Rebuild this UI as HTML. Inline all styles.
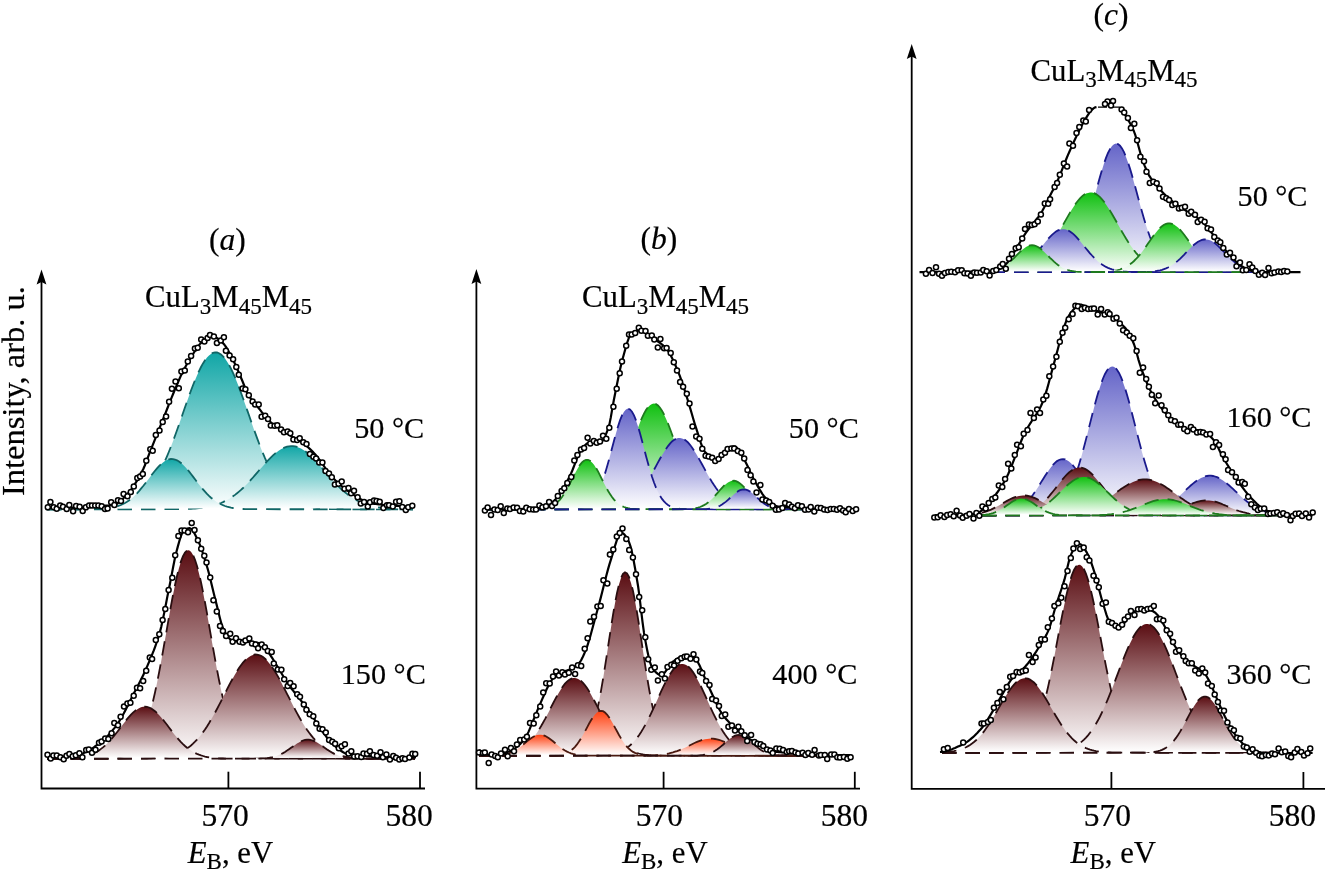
<!DOCTYPE html>
<html><head><meta charset="utf-8"><style>html,body{margin:0;padding:0;background:#fff;width:1328px;height:872px;overflow:hidden}svg{display:block;will-change:transform}</style></head><body><svg width="1328" height="872" viewBox="0 0 1328 872"><defs><linearGradient id="a1_g0" x1="0" y1="0" x2="0" y2="1"><stop offset="0" stop-color="#10a6a6"/><stop offset="1" stop-color="#fff"/></linearGradient><linearGradient id="a1_g1" x1="0" y1="0" x2="0" y2="1"><stop offset="0" stop-color="#10a6a6"/><stop offset="1" stop-color="#fff"/></linearGradient><linearGradient id="a1_g2" x1="0" y1="0" x2="0" y2="1"><stop offset="0" stop-color="#10a6a6"/><stop offset="1" stop-color="#fff"/></linearGradient><linearGradient id="a2_g0" x1="0" y1="0" x2="0" y2="1"><stop offset="0" stop-color="#5a0d12"/><stop offset="1" stop-color="#fff"/></linearGradient><linearGradient id="a2_g1" x1="0" y1="0" x2="0" y2="1"><stop offset="0" stop-color="#5a0d12"/><stop offset="1" stop-color="#fff"/></linearGradient><linearGradient id="a2_g2" x1="0" y1="0" x2="0" y2="1"><stop offset="0" stop-color="#5a0d12"/><stop offset="1" stop-color="#fff"/></linearGradient><linearGradient id="a2_g3" x1="0" y1="0" x2="0" y2="1"><stop offset="0" stop-color="#5a0d12"/><stop offset="1" stop-color="#fff"/></linearGradient><linearGradient id="b1_g0" x1="0" y1="0" x2="0" y2="1"><stop offset="0" stop-color="#10c010"/><stop offset="1" stop-color="#fff"/></linearGradient><linearGradient id="b1_g1" x1="0" y1="0" x2="0" y2="1"><stop offset="0" stop-color="#6464c8"/><stop offset="1" stop-color="#fff"/></linearGradient><linearGradient id="b1_g2" x1="0" y1="0" x2="0" y2="1"><stop offset="0" stop-color="#6464c8"/><stop offset="1" stop-color="#fff"/></linearGradient><linearGradient id="b1_g3" x1="0" y1="0" x2="0" y2="1"><stop offset="0" stop-color="#10c010"/><stop offset="1" stop-color="#fff"/></linearGradient><linearGradient id="b1_g4" x1="0" y1="0" x2="0" y2="1"><stop offset="0" stop-color="#10c010"/><stop offset="1" stop-color="#fff"/></linearGradient><linearGradient id="b1_g5" x1="0" y1="0" x2="0" y2="1"><stop offset="0" stop-color="#6464c8"/><stop offset="1" stop-color="#fff"/></linearGradient><linearGradient id="b2_g0" x1="0" y1="0" x2="0" y2="1"><stop offset="0" stop-color="#5a0d12"/><stop offset="1" stop-color="#fff"/></linearGradient><linearGradient id="b2_g1" x1="0" y1="0" x2="0" y2="1"><stop offset="0" stop-color="#5a0d12"/><stop offset="1" stop-color="#fff"/></linearGradient><linearGradient id="b2_g2" x1="0" y1="0" x2="0" y2="1"><stop offset="0" stop-color="#5a0d12"/><stop offset="1" stop-color="#fff"/></linearGradient><linearGradient id="b2_g3" x1="0" y1="0" x2="0" y2="1"><stop offset="0" stop-color="#ff4010"/><stop offset="1" stop-color="#fff"/></linearGradient><linearGradient id="b2_g4" x1="0" y1="0" x2="0" y2="1"><stop offset="0" stop-color="#ff4010"/><stop offset="1" stop-color="#fff"/></linearGradient><linearGradient id="b2_g5" x1="0" y1="0" x2="0" y2="1"><stop offset="0" stop-color="#ff4010"/><stop offset="1" stop-color="#fff"/></linearGradient><linearGradient id="b2_g6" x1="0" y1="0" x2="0" y2="1"><stop offset="0" stop-color="#5a0d12"/><stop offset="1" stop-color="#fff"/></linearGradient><linearGradient id="c1_g0" x1="0" y1="0" x2="0" y2="1"><stop offset="0" stop-color="#6464c8"/><stop offset="1" stop-color="#fff"/></linearGradient><linearGradient id="c1_g1" x1="0" y1="0" x2="0" y2="1"><stop offset="0" stop-color="#10c010"/><stop offset="1" stop-color="#fff"/></linearGradient><linearGradient id="c1_g2" x1="0" y1="0" x2="0" y2="1"><stop offset="0" stop-color="#10c010"/><stop offset="1" stop-color="#fff"/></linearGradient><linearGradient id="c1_g3" x1="0" y1="0" x2="0" y2="1"><stop offset="0" stop-color="#6464c8"/><stop offset="1" stop-color="#fff"/></linearGradient><linearGradient id="c1_g4" x1="0" y1="0" x2="0" y2="1"><stop offset="0" stop-color="#6464c8"/><stop offset="1" stop-color="#fff"/></linearGradient><linearGradient id="c1_g5" x1="0" y1="0" x2="0" y2="1"><stop offset="0" stop-color="#10c010"/><stop offset="1" stop-color="#fff"/></linearGradient><linearGradient id="c2_g0" x1="0" y1="0" x2="0" y2="1"><stop offset="0" stop-color="#6464c8"/><stop offset="1" stop-color="#fff"/></linearGradient><linearGradient id="c2_g1" x1="0" y1="0" x2="0" y2="1"><stop offset="0" stop-color="#6464c8"/><stop offset="1" stop-color="#fff"/></linearGradient><linearGradient id="c2_g2" x1="0" y1="0" x2="0" y2="1"><stop offset="0" stop-color="#6464c8"/><stop offset="1" stop-color="#fff"/></linearGradient><linearGradient id="c2_g3" x1="0" y1="0" x2="0" y2="1"><stop offset="0" stop-color="#5a0d12"/><stop offset="1" stop-color="#fff"/></linearGradient><linearGradient id="c2_g4" x1="0" y1="0" x2="0" y2="1"><stop offset="0" stop-color="#5a0d12"/><stop offset="1" stop-color="#fff"/></linearGradient><linearGradient id="c2_g5" x1="0" y1="0" x2="0" y2="1"><stop offset="0" stop-color="#5a0d12"/><stop offset="1" stop-color="#fff"/></linearGradient><linearGradient id="c2_g6" x1="0" y1="0" x2="0" y2="1"><stop offset="0" stop-color="#5a0d12"/><stop offset="1" stop-color="#fff"/></linearGradient><linearGradient id="c2_g7" x1="0" y1="0" x2="0" y2="1"><stop offset="0" stop-color="#10c010"/><stop offset="1" stop-color="#fff"/></linearGradient><linearGradient id="c2_g8" x1="0" y1="0" x2="0" y2="1"><stop offset="0" stop-color="#10c010"/><stop offset="1" stop-color="#fff"/></linearGradient><linearGradient id="c2_g9" x1="0" y1="0" x2="0" y2="1"><stop offset="0" stop-color="#10c010"/><stop offset="1" stop-color="#fff"/></linearGradient><linearGradient id="c3_g0" x1="0" y1="0" x2="0" y2="1"><stop offset="0" stop-color="#5a0d12"/><stop offset="1" stop-color="#fff"/></linearGradient><linearGradient id="c3_g1" x1="0" y1="0" x2="0" y2="1"><stop offset="0" stop-color="#5a0d12"/><stop offset="1" stop-color="#fff"/></linearGradient><linearGradient id="c3_g2" x1="0" y1="0" x2="0" y2="1"><stop offset="0" stop-color="#5a0d12"/><stop offset="1" stop-color="#fff"/></linearGradient><linearGradient id="c3_g3" x1="0" y1="0" x2="0" y2="1"><stop offset="0" stop-color="#5a0d12"/><stop offset="1" stop-color="#fff"/></linearGradient></defs><rect width="100%" height="100%" fill="#fff"/><path d="M41.5,279.5 L41.5,788.5 L425.0,788.5" fill="none" stroke="#000" stroke-width="1.8"/><path d="M41.5,269.5 L36.6,284.5 L41.5,281.9 L46.4,284.5 Z" fill="#000"/><path d="M228.4,788.5 L228.4,771.7" stroke="#000" stroke-width="1.8"/><path d="M420.0,788.5 L420.0,771.7" stroke="#000" stroke-width="1.8"/><path d="M476.4,279.0 L476.4,788.6 L860.0,788.6" fill="none" stroke="#000" stroke-width="1.8"/><path d="M476.4,269.0 L471.5,284.0 L476.4,281.4 L481.3,284.0 Z" fill="#000"/><path d="M663.6,788.6 L663.6,771.8" stroke="#000" stroke-width="1.8"/><path d="M854.8,788.6 L854.8,771.8" stroke="#000" stroke-width="1.8"/><path d="M911.7,54.0 L911.7,788.8 L1325.0,788.8" fill="none" stroke="#000" stroke-width="1.8"/><path d="M911.7,44.0 L906.8,59.0 L911.7,56.4 L916.6,59.0 Z" fill="#000"/><path d="M1111.4,788.8 L1111.4,772.0" stroke="#000" stroke-width="1.8"/><path d="M1303.4,788.8 L1303.4,772.0" stroke="#000" stroke-width="1.8"/><path d="M111,508.4 113,508.2 115,507.9 117,507.6 119,507.2 121,506.8 123,506.3 125,505.8 127,505.1 129,504.4 131,503.5 133,502.6 135,501.4 137,500.2 139,498.8 141,497.2 143,495.4 145,493.5 147,491.3 149,488.9 151,486.3 153,483.4 155,480.3 157,477 159,473.3 161,469.5 163,465.3 165,460.9 167,456.3 169,451.5 171,446.4 173,441.2 175,435.7 177,430.2 179,424.5 181,418.8 183,413 185,407.3 187,401.6 189,395.9 191,390.5 193,385.2 195,380.2 197,375.5 199,371.1 201,367 203,363.4 205,360.3 207,357.6 209,355.5 211,353.9 213,352.9 215,352.4 217,352.5 219,353.2 221,354.5 223,356.3 225,358.6 227,361.5 229,364.8 231,368.6 233,372.8 235,377.3 237,382.2 239,387.3 241,392.7 243,398.2 245,403.8 247,409.6 249,415.3 251,421.1 253,426.8 255,432.4 257,437.9 259,443.3 261,448.5 263,453.4 265,458.2 267,462.7 269,467 271,471 273,474.8 275,478.3 277,481.6 279,484.6 281,487.4 283,489.9 285,492.2 287,494.3 289,496.2 291,497.9 293,499.4 295,500.7 297,501.9 299,503 301,503.9 303,504.7 305,505.4 307,506 309,506.5 311,507 313,507.4 315,507.7 317,508 319,508.2 L319.0,508.4 L111.0,508.4 Z" fill="url(#a1_g0)"/><path d="M47,509.4 93,509.2 95,509.2 97,509.2 99,509.1 101,509 103,508.9 105,508.8 107,508.7 109,508.5 111,508.4 113,508.2 115,507.9 117,507.6 119,507.2 121,506.8 123,506.3 125,505.8 127,505.1 129,504.4 131,503.5 133,502.6 135,501.4 137,500.2 139,498.8 141,497.2 143,495.4 145,493.5 147,491.3 149,488.9 151,486.3 153,483.4 155,480.3 157,477 159,473.3 161,469.5 163,465.3 165,460.9 167,456.3 169,451.5 171,446.4 173,441.2 175,435.7 177,430.2 179,424.5 181,418.8 183,413 185,407.3 187,401.6 189,395.9 191,390.5 193,385.2 195,380.2 197,375.5 199,371.1 201,367 203,363.4 205,360.3 207,357.6 209,355.5 211,353.9 213,352.9 215,352.4 217,352.5 219,353.2 221,354.5 223,356.3 225,358.6 227,361.5 229,364.8 231,368.6 233,372.8 235,377.3 237,382.2 239,387.3 241,392.7 243,398.2 245,403.8 247,409.6 249,415.3 251,421.1 253,426.8 255,432.4 257,437.9 259,443.3 261,448.5 263,453.4 265,458.2 267,462.7 269,467 271,471 273,474.8 275,478.3 277,481.6 279,484.6 281,487.4 283,489.9 285,492.2 287,494.3 289,496.2 291,497.9 293,499.4 295,500.7 297,501.9 299,503 301,503.9 303,504.7 305,505.4 307,506 309,506.5 311,507 313,507.4 315,507.7 317,508 319,508.2 321,508.4 323,508.6 325,508.8 327,508.9 329,509 331,509.1 333,509.1 335,509.2 337,509.2 413,509.4" fill="none" stroke="#106666" stroke-width="1.8" stroke-dasharray="14.5 9"/><path d="M197,508.4 199,508.2 201,507.9 203,507.7 205,507.4 207,507 209,506.6 211,506.2 213,505.7 215,505.1 217,504.5 219,503.8 221,503 223,502.1 225,501.1 227,500.1 229,498.9 231,497.7 233,496.3 235,494.9 237,493.3 239,491.6 241,489.9 243,488 245,486 247,484 249,481.9 251,479.7 253,477.5 255,475.2 257,472.9 259,470.5 261,468.2 263,465.9 265,463.7 267,461.5 269,459.3 271,457.3 273,455.4 275,453.6 277,452 279,450.5 281,449.3 283,448.2 285,447.4 287,446.7 289,446.3 291,446.1 293,446.2 295,446.4 297,446.9 299,447.7 301,448.6 303,449.8 305,451.1 307,452.6 309,454.3 311,456.1 313,458.1 315,460.2 317,462.3 319,464.6 321,466.8 323,469.1 325,471.5 327,473.8 329,476.1 331,478.4 333,480.6 335,482.7 337,484.8 339,486.8 341,488.8 343,490.6 345,492.3 347,493.9 349,495.5 351,496.9 353,498.2 355,499.4 357,500.5 359,501.5 361,502.5 363,503.3 365,504.1 367,504.7 369,505.4 371,505.9 373,506.4 375,506.8 377,507.2 379,507.5 381,507.8 383,508 385,508.2 L385.0,508.4 L197.0,508.4 Z" fill="url(#a1_g1)"/><path d="M47,509.4 177,509.2 179,509.2 181,509.2 183,509.1 185,509.1 187,509 189,508.9 191,508.8 193,508.7 195,508.5 197,508.4 199,508.2 201,507.9 203,507.7 205,507.4 207,507 209,506.6 211,506.2 213,505.7 215,505.1 217,504.5 219,503.8 221,503 223,502.1 225,501.1 227,500.1 229,498.9 231,497.7 233,496.3 235,494.9 237,493.3 239,491.6 241,489.9 243,488 245,486 247,484 249,481.9 251,479.7 253,477.5 255,475.2 257,472.9 259,470.5 261,468.2 263,465.9 265,463.7 267,461.5 269,459.3 271,457.3 273,455.4 275,453.6 277,452 279,450.5 281,449.3 283,448.2 285,447.4 287,446.7 289,446.3 291,446.1 293,446.2 295,446.4 297,446.9 299,447.7 301,448.6 303,449.8 305,451.1 307,452.6 309,454.3 311,456.1 313,458.1 315,460.2 317,462.3 319,464.6 321,466.8 323,469.1 325,471.5 327,473.8 329,476.1 331,478.4 333,480.6 335,482.7 337,484.8 339,486.8 341,488.8 343,490.6 345,492.3 347,493.9 349,495.5 351,496.9 353,498.2 355,499.4 357,500.5 359,501.5 361,502.5 363,503.3 365,504.1 367,504.7 369,505.4 371,505.9 373,506.4 375,506.8 377,507.2 379,507.5 381,507.8 383,508 385,508.2 387,508.4 389,508.6 391,508.7 393,508.8 395,508.9 397,509 399,509.1 401,509.1 403,509.2 405,509.2 413,509.3" fill="none" stroke="#106666" stroke-width="1.8" stroke-dasharray="14.5 9"/><path d="M109,508.2 111,507.9 113,507.5 115,507 117,506.4 119,505.7 121,505 123,504 125,503 127,501.8 129,500.4 131,498.9 133,497.2 135,495.3 137,493.3 139,491.1 141,488.7 143,486.3 145,483.7 147,481.1 149,478.4 151,475.8 153,473.2 155,470.7 157,468.3 159,466.1 161,464.2 163,462.5 165,461.1 167,460 169,459.3 171,459 173,459.1 175,459.5 177,460.3 179,461.5 181,463 183,464.7 185,466.8 187,469 189,471.4 191,474 193,476.6 195,479.2 197,481.9 199,484.5 201,487 203,489.4 205,491.7 207,493.9 209,495.9 211,497.7 213,499.3 215,500.8 217,502.2 219,503.3 221,504.3 223,505.2 225,506 227,506.6 229,507.1 231,507.6 233,508 235,508.3 L235.0,508.4 L109.0,508.4 Z" fill="url(#a1_g2)"/><path d="M47,509.4 95,509.2 97,509.1 99,509.1 101,509 103,508.8 105,508.6 107,508.4 109,508.2 111,507.9 113,507.5 115,507 117,506.4 119,505.7 121,505 123,504 125,503 127,501.8 129,500.4 131,498.9 133,497.2 135,495.3 137,493.3 139,491.1 141,488.7 143,486.3 145,483.7 147,481.1 149,478.4 151,475.8 153,473.2 155,470.7 157,468.3 159,466.1 161,464.2 163,462.5 165,461.1 167,460 169,459.3 171,459 173,459.1 175,459.5 177,460.3 179,461.5 181,463 183,464.7 185,466.8 187,469 189,471.4 191,474 193,476.6 195,479.2 197,481.9 199,484.5 201,487 203,489.4 205,491.7 207,493.9 209,495.9 211,497.7 213,499.3 215,500.8 217,502.2 219,503.3 221,504.3 223,505.2 225,506 227,506.6 229,507.1 231,507.6 233,508 235,508.3 237,508.5 239,508.7 241,508.9 243,509 245,509.1 247,509.2 249,509.2 413,509.4" fill="none" stroke="#106666" stroke-width="1.8" stroke-dasharray="14.5 9"/><path d="M47.3,508 48.8,508 50.3,508 51.8,508 53.3,508 54.8,508 56.3,508 57.8,507.9 59.3,507.9 60.8,507.9 62.3,507.9 63.8,507.9 65.3,507.8 66.8,507.8 68.3,507.8 69.8,507.7 71.3,507.7 72.8,507.6 74.3,507.6 75.8,507.5 77.3,507.5 78.8,507.4 80.3,507.4 81.8,507.3 83.3,507.2 84.8,507.2 86.3,507.1 87.8,507 89.3,506.9 90.8,506.9 92.3,506.8 93.8,506.7 95.3,506.6 96.8,506.5 98.3,506.4 99.8,506.2 101.3,506.1 102.8,506 104.3,505.9 105.8,505.7 107.3,505.6 108.8,505.5 110.3,505.3 111.8,505.2 113.3,505 114.8,504.7 116.3,504.1 117.8,503.2 119.3,502.1 120.8,500.8 122.3,499.4 123.8,497.8 125.3,496.2 126.8,494.6 128.3,493 129.8,491.3 131.3,489.4 132.8,487.3 134.3,485.1 135.8,482.7 137.3,480.2 138.8,477.6 140.3,474.8 141.8,472 143.3,469 144.8,465.5 146.3,461.6 147.8,457.6 149.3,453.6 150.8,449.8 152.3,446.1 153.8,442.4 155.3,438.7 156.8,434.9 158.3,431.2 159.8,427.4 161.3,423.6 162.8,419.8 164.3,416 165.8,412.3 167.3,408.5 168.8,404.7 170.3,400.9 171.8,397.2 173.3,393.5 174.8,389.9 176.3,386.3 177.8,382.8 179.3,379.3 180.8,375.9 182.3,372.7 183.8,369.7 185.3,366.9 186.8,364.2 188.3,361.7 189.8,359.2 191.3,356.8 192.8,354.4 194.3,352 195.8,349.7 197.3,347.4 198.8,345.4 200.3,343.6 201.8,342.2 203.3,341 204.8,339.7 206.3,338.5 207.8,337.5 209.3,336.8 210.8,336.3 212.3,336.2 213.8,336.5 215.3,337.1 216.8,338 218.3,339 219.8,340.2 221.3,341.5 222.8,342.9 224.3,344.6 225.8,346.7 227.3,349.1 228.8,351.7 230.3,354.5 231.8,357.4 233.3,360.3 234.8,363.4 236.3,366.8 237.8,370.3 239.3,373.8 240.8,377.3 242.3,380.8 243.8,384.5 245.3,388.2 246.8,391.7 248.3,394.7 249.8,397.2 251.3,399.3 252.8,401.1 254.3,402.8 255.8,404.5 257.3,406.3 258.8,408.2 260.3,410.1 261.8,412.1 263.3,414 264.8,415.8 266.3,417.5 267.8,419.2 269.3,420.8 270.8,422.3 272.3,423.7 273.8,424.9 275.3,425.9 276.8,426.7 278.3,427.5 279.8,428.2 281.3,429 282.8,430 284.3,431 285.8,432.2 287.3,433.4 288.8,434.5 290.3,435.5 291.8,436.4 293.3,437.2 294.8,438 296.3,438.8 297.8,439.6 299.3,440.5 300.8,441.5 302.3,442.6 303.8,443.8 305.3,445 306.8,446.2 308.3,447.5 309.8,448.9 311.3,450.3 312.8,451.8 314.3,453.4 315.8,455.1 317.3,457 318.8,458.9 320.3,461 321.8,463.1 323.3,465.2 324.8,467.4 326.3,469.5 327.8,471.5 329.3,473.5 330.8,475.4 332.3,477.1 333.8,478.7 335.3,480.2 336.8,481.6 338.3,483.1 339.8,484.4 341.3,485.8 342.8,487 344.3,488.3 345.8,489.5 347.3,490.6 348.8,491.6 350.3,492.7 351.8,493.6 353.3,494.6 354.8,495.5 356.3,496.5 357.8,497.4 359.3,498.3 360.8,499.2 362.3,500 363.8,500.8 365.3,501.5 366.8,502.1 368.3,502.7 369.8,503.1 371.3,503.4 372.8,503.6 374.3,503.8 375.8,504 377.3,504.2 378.8,504.4 380.3,504.5 381.8,504.7 383.3,504.9 384.8,505 386.3,505.2 387.8,505.3 389.3,505.4 390.8,505.5 392.3,505.7 393.8,505.8 395.3,505.9 396.8,506 398.3,506 399.8,506.1 401.3,506.2 402.8,506.3 404.3,506.3 405.8,506.4 407.3,506.4 408.8,506.4 410.3,506.5 411.8,506.5 413.3,506.5 414.4,506.5" fill="none" stroke="#000" stroke-width="2.2" stroke-linejoin="round"/><g fill="#fff" stroke="#000" stroke-width="1.5"><circle cx="47.8" cy="507.3" r="2.5"/><circle cx="50.4" cy="501.9" r="2.5"/><circle cx="53.7" cy="507.2" r="2.5"/><circle cx="56.7" cy="508.7" r="2.5"/><circle cx="60.2" cy="505.5" r="2.5"/><circle cx="63.0" cy="506.8" r="2.5"/><circle cx="66.7" cy="509.1" r="2.5"/><circle cx="69.3" cy="505.1" r="2.5"/><circle cx="73.1" cy="511.3" r="2.5"/><circle cx="76.1" cy="505.9" r="2.5"/><circle cx="79.6" cy="506.7" r="2.5"/><circle cx="82.7" cy="510.9" r="2.5"/><circle cx="85.9" cy="507.3" r="2.5"/><circle cx="89.1" cy="505.5" r="2.5"/><circle cx="92.0" cy="505.4" r="2.5"/><circle cx="95.2" cy="505.4" r="2.5"/><circle cx="98.4" cy="505.4" r="2.5"/><circle cx="101.7" cy="506.2" r="2.5"/><circle cx="105.0" cy="509.1" r="2.5"/><circle cx="107.6" cy="508.6" r="2.5"/><circle cx="111.2" cy="502.3" r="2.5"/><circle cx="114.4" cy="505.0" r="2.5"/><circle cx="118.0" cy="500.3" r="2.5"/><circle cx="121.0" cy="501.1" r="2.5"/><circle cx="123.6" cy="493.9" r="2.5"/><circle cx="127.5" cy="496.2" r="2.5"/><circle cx="130.8" cy="492.1" r="2.5"/><circle cx="133.8" cy="486.4" r="2.5"/><circle cx="137.3" cy="478.0" r="2.5"/><circle cx="140.1" cy="476.6" r="2.5"/><circle cx="142.8" cy="474.1" r="2.5"/><circle cx="146.3" cy="460.8" r="2.5"/><circle cx="150.3" cy="449.2" r="2.5"/><circle cx="152.7" cy="450.8" r="2.5"/><circle cx="155.8" cy="434.9" r="2.5"/><circle cx="159.5" cy="430.5" r="2.5"/><circle cx="162.7" cy="422.1" r="2.5"/><circle cx="166.1" cy="416.6" r="2.5"/><circle cx="169.1" cy="401.7" r="2.5"/><circle cx="171.9" cy="388.8" r="2.5"/><circle cx="175.5" cy="381.5" r="2.5"/><circle cx="178.8" cy="388.3" r="2.5"/><circle cx="181.4" cy="371.4" r="2.5"/><circle cx="184.8" cy="370.6" r="2.5"/><circle cx="187.8" cy="361.5" r="2.5"/><circle cx="191.1" cy="355.9" r="2.5"/><circle cx="194.9" cy="348.4" r="2.5"/><circle cx="197.7" cy="347.8" r="2.5"/><circle cx="201.2" cy="339.4" r="2.5"/><circle cx="204.4" cy="341.5" r="2.5"/><circle cx="207.6" cy="338.1" r="2.5"/><circle cx="210.0" cy="334.9" r="2.5"/><circle cx="213.9" cy="336.6" r="2.5"/><circle cx="216.9" cy="343.0" r="2.5"/><circle cx="220.8" cy="340.4" r="2.5"/><circle cx="223.9" cy="337.3" r="2.5"/><circle cx="225.9" cy="350.8" r="2.5"/><circle cx="229.6" cy="355.5" r="2.5"/><circle cx="233.1" cy="359.2" r="2.5"/><circle cx="236.3" cy="366.9" r="2.5"/><circle cx="238.8" cy="374.7" r="2.5"/><circle cx="242.6" cy="388.6" r="2.5"/><circle cx="245.4" cy="389.2" r="2.5"/><circle cx="248.8" cy="395.2" r="2.5"/><circle cx="252.6" cy="401.4" r="2.5"/><circle cx="255.2" cy="404.4" r="2.5"/><circle cx="258.7" cy="404.6" r="2.5"/><circle cx="261.6" cy="416.8" r="2.5"/><circle cx="265.2" cy="415.8" r="2.5"/><circle cx="268.0" cy="419.0" r="2.5"/><circle cx="270.8" cy="425.6" r="2.5"/><circle cx="274.6" cy="425.8" r="2.5"/><circle cx="277.3" cy="425.3" r="2.5"/><circle cx="281.1" cy="429.5" r="2.5"/><circle cx="284.0" cy="432.3" r="2.5"/><circle cx="287.6" cy="431.5" r="2.5"/><circle cx="290.3" cy="433.3" r="2.5"/><circle cx="293.4" cy="439.5" r="2.5"/><circle cx="297.1" cy="440.0" r="2.5"/><circle cx="299.7" cy="438.2" r="2.5"/><circle cx="303.3" cy="442.2" r="2.5"/><circle cx="306.5" cy="443.9" r="2.5"/><circle cx="309.9" cy="454.1" r="2.5"/><circle cx="313.4" cy="456.8" r="2.5"/><circle cx="316.1" cy="458.4" r="2.5"/><circle cx="319.2" cy="462.6" r="2.5"/><circle cx="322.4" cy="462.5" r="2.5"/><circle cx="325.5" cy="470.9" r="2.5"/><circle cx="329.0" cy="473.6" r="2.5"/><circle cx="331.8" cy="477.3" r="2.5"/><circle cx="334.9" cy="484.6" r="2.5"/><circle cx="338.5" cy="483.8" r="2.5"/><circle cx="341.7" cy="481.5" r="2.5"/><circle cx="344.5" cy="488.7" r="2.5"/><circle cx="348.5" cy="488.0" r="2.5"/><circle cx="351.1" cy="493.2" r="2.5"/><circle cx="354.0" cy="490.7" r="2.5"/><circle cx="357.6" cy="497.2" r="2.5"/><circle cx="360.8" cy="503.4" r="2.5"/><circle cx="364.1" cy="501.9" r="2.5"/><circle cx="367.8" cy="506.6" r="2.5"/><circle cx="370.0" cy="502.3" r="2.5"/><circle cx="374.0" cy="500.4" r="2.5"/><circle cx="376.6" cy="501.0" r="2.5"/><circle cx="379.7" cy="501.8" r="2.5"/><circle cx="383.4" cy="507.9" r="2.5"/><circle cx="387.0" cy="505.2" r="2.5"/><circle cx="389.1" cy="505.3" r="2.5"/><circle cx="392.8" cy="506.5" r="2.5"/><circle cx="396.1" cy="501.7" r="2.5"/><circle cx="399.4" cy="501.3" r="2.5"/><circle cx="402.3" cy="507.0" r="2.5"/><circle cx="405.8" cy="510.0" r="2.5"/><circle cx="408.2" cy="507.2" r="2.5"/><circle cx="412.3" cy="505.7" r="2.5"/></g><path d="M117,757.7 119,757.3 121,756.9 123,756.3 125,755.5 127,754.5 129,753.3 131,751.8 133,749.9 135,747.7 137,745 139,741.9 141,738.1 143,733.8 145,728.7 147,723 149,716.5 151,709.2 153,701.2 155,692.5 157,683 159,672.9 161,662.2 163,651.1 165,639.7 167,628.3 169,616.8 171,605.7 173,595 175,585 177,576 179,568 181,561.4 183,556.2 185,552.5 187,550.6 189,550.3 191,551.8 193,554.9 195,559.7 197,565.9 199,573.5 201,582.2 203,591.9 205,602.4 207,613.4 209,624.8 211,636.3 213,647.7 215,658.9 217,669.7 219,680 221,689.7 223,698.7 225,706.9 227,714.4 229,721.1 231,727.1 233,732.3 235,736.9 237,740.8 239,744.1 241,747 243,749.3 245,751.3 247,752.9 249,754.2 251,755.2 253,756 255,756.7 257,757.2 259,757.6 L259.0,757.8 L117.0,757.8 Z" fill="url(#a2_g0)"/><path d="M47,758.8 105,758.6 107,758.6 109,758.5 111,758.4 113,758.2 115,758 117,757.7 119,757.3 121,756.9 123,756.3 125,755.5 127,754.5 129,753.3 131,751.8 133,749.9 135,747.7 137,745 139,741.9 141,738.1 143,733.8 145,728.7 147,723 149,716.5 151,709.2 153,701.2 155,692.5 157,683 159,672.9 161,662.2 163,651.1 165,639.7 167,628.3 169,616.8 171,605.7 173,595 175,585 177,576 179,568 181,561.4 183,556.2 185,552.5 187,550.6 189,550.3 191,551.8 193,554.9 195,559.7 197,565.9 199,573.5 201,582.2 203,591.9 205,602.4 207,613.4 209,624.8 211,636.3 213,647.7 215,658.9 217,669.7 219,680 221,689.7 223,698.7 225,706.9 227,714.4 229,721.1 231,727.1 233,732.3 235,736.9 237,740.8 239,744.1 241,747 243,749.3 245,751.3 247,752.9 249,754.2 251,755.2 253,756 255,756.7 257,757.2 259,757.6 261,757.9 263,758.1 265,758.3 267,758.5 269,758.6 271,758.6 415,758.8" fill="none" stroke="#2a0e10" stroke-width="1.8" stroke-dasharray="14.5 9"/><path d="M159,757.7 161,757.5 163,757.3 165,757 167,756.6 169,756.2 171,755.7 173,755.2 175,754.5 177,753.8 179,753 181,752.1 183,751 185,749.8 187,748.5 189,747.1 191,745.5 193,743.7 195,741.7 197,739.6 199,737.3 201,734.9 203,732.2 205,729.4 207,726.4 209,723.2 211,719.8 213,716.3 215,712.7 217,709 219,705.2 221,701.3 223,697.3 225,693.4 227,689.4 229,685.5 231,681.7 233,678.1 235,674.5 237,671.2 239,668.1 241,665.2 243,662.6 245,660.4 247,658.5 249,656.9 251,655.7 253,654.9 255,654.5 257,654.6 259,655 261,655.8 263,657 265,658.6 267,660.6 269,662.9 271,665.5 273,668.4 275,671.5 277,674.9 279,678.4 281,682.1 283,685.9 285,689.8 287,693.8 289,697.7 291,701.6 293,705.5 295,709.4 297,713.1 299,716.7 301,720.2 303,723.5 305,726.7 307,729.7 309,732.5 311,735.1 313,737.6 315,739.9 317,741.9 319,743.9 321,745.6 323,747.2 325,748.7 327,750 329,751.1 331,752.2 333,753.1 335,753.9 337,754.6 339,755.2 341,755.8 343,756.2 345,756.6 347,757 349,757.3 351,757.5 353,757.8 L353.0,757.8 L159.0,757.8 Z" fill="url(#a2_g1)"/><path d="M47,758.8 141,758.6 143,758.6 145,758.5 147,758.5 149,758.4 151,758.3 153,758.2 155,758.1 157,757.9 159,757.7 161,757.5 163,757.3 165,757 167,756.6 169,756.2 171,755.7 173,755.2 175,754.5 177,753.8 179,753 181,752.1 183,751 185,749.8 187,748.5 189,747.1 191,745.5 193,743.7 195,741.7 197,739.6 199,737.3 201,734.9 203,732.2 205,729.4 207,726.4 209,723.2 211,719.8 213,716.3 215,712.7 217,709 219,705.2 221,701.3 223,697.3 225,693.4 227,689.4 229,685.5 231,681.7 233,678.1 235,674.5 237,671.2 239,668.1 241,665.2 243,662.6 245,660.4 247,658.5 249,656.9 251,655.7 253,654.9 255,654.5 257,654.6 259,655 261,655.8 263,657 265,658.6 267,660.6 269,662.9 271,665.5 273,668.4 275,671.5 277,674.9 279,678.4 281,682.1 283,685.9 285,689.8 287,693.8 289,697.7 291,701.6 293,705.5 295,709.4 297,713.1 299,716.7 301,720.2 303,723.5 305,726.7 307,729.7 309,732.5 311,735.1 313,737.6 315,739.9 317,741.9 319,743.9 321,745.6 323,747.2 325,748.7 327,750 329,751.1 331,752.2 333,753.1 335,753.9 337,754.6 339,755.2 341,755.8 343,756.2 345,756.6 347,757 349,757.3 351,757.5 353,757.8 355,757.9 357,758.1 359,758.2 361,758.3 363,758.4 365,758.5 367,758.5 369,758.6 371,758.6 415,758.8" fill="none" stroke="#2a0e10" stroke-width="1.8" stroke-dasharray="14.5 9"/><path d="M79,757.6 81,757.3 83,756.9 85,756.5 87,755.9 89,755.3 91,754.6 93,753.7 95,752.7 97,751.6 99,750.4 101,748.9 103,747.4 105,745.6 107,743.7 109,741.7 111,739.5 113,737.1 115,734.7 117,732.2 119,729.6 121,726.9 123,724.3 125,721.7 127,719.2 129,716.9 131,714.6 133,712.6 135,710.9 137,709.4 139,708.2 141,707.3 143,706.8 145,706.7 147,706.9 149,707.5 151,708.4 153,709.7 155,711.2 157,713 159,715.1 161,717.3 163,719.7 165,722.2 167,724.8 169,727.5 171,730.1 173,732.7 175,735.2 177,737.6 179,739.9 181,742.1 183,744.1 185,746 187,747.7 189,749.2 191,750.6 193,751.9 195,753 197,753.9 199,754.7 201,755.4 203,756 205,756.6 207,757 209,757.3 211,757.6 L211.0,757.8 L79.0,757.8 Z" fill="url(#a2_g2)"/><path d="M47,758.8 63,758.6 65,758.6 67,758.5 69,758.4 71,758.3 73,758.2 75,758 77,757.8 79,757.6 81,757.3 83,756.9 85,756.5 87,755.9 89,755.3 91,754.6 93,753.7 95,752.7 97,751.6 99,750.4 101,748.9 103,747.4 105,745.6 107,743.7 109,741.7 111,739.5 113,737.1 115,734.7 117,732.2 119,729.6 121,726.9 123,724.3 125,721.7 127,719.2 129,716.9 131,714.6 133,712.6 135,710.9 137,709.4 139,708.2 141,707.3 143,706.8 145,706.7 147,706.9 149,707.5 151,708.4 153,709.7 155,711.2 157,713 159,715.1 161,717.3 163,719.7 165,722.2 167,724.8 169,727.5 171,730.1 173,732.7 175,735.2 177,737.6 179,739.9 181,742.1 183,744.1 185,746 187,747.7 189,749.2 191,750.6 193,751.9 195,753 197,753.9 199,754.7 201,755.4 203,756 205,756.6 207,757 209,757.3 211,757.6 213,757.9 215,758.1 217,758.2 219,758.4 221,758.5 223,758.5 225,758.6 415,758.8" fill="none" stroke="#2a0e10" stroke-width="1.8" stroke-dasharray="14.5 9"/><path d="M271,757.5 273,757 275,756.5 277,755.8 279,755 281,754.1 283,753.1 285,751.9 287,750.6 289,749.2 291,747.8 293,746.4 295,744.9 297,743.6 299,742.4 301,741.3 303,740.5 305,739.9 307,739.6 309,739.6 311,740 313,740.6 315,741.4 317,742.5 319,743.7 321,745.1 323,746.5 325,748 327,749.4 329,750.8 331,752 333,753.2 335,754.2 337,755.1 339,755.9 341,756.5 343,757.1 345,757.5 L345.0,757.8 L271.0,757.8 Z" fill="url(#a2_g3)"/><path d="M47,758.8 259,758.6 261,758.5 263,758.4 265,758.3 267,758.1 269,757.8 271,757.5 273,757 275,756.5 277,755.8 279,755 281,754.1 283,753.1 285,751.9 287,750.6 289,749.2 291,747.8 293,746.4 295,744.9 297,743.6 299,742.4 301,741.3 303,740.5 305,739.9 307,739.6 309,739.6 311,740 313,740.6 315,741.4 317,742.5 319,743.7 321,745.1 323,746.5 325,748 327,749.4 329,750.8 331,752 333,753.2 335,754.2 337,755.1 339,755.9 341,756.5 343,757.1 345,757.5 347,757.8 349,758.1 351,758.3 353,758.4 355,758.5 357,758.6 415,758.8" fill="none" stroke="#2a0e10" stroke-width="1.8" stroke-dasharray="14.5 9"/><path d="M47.3,757.3 48.8,757.3 50.3,757.3 51.8,757.2 53.3,757.2 54.8,757.1 56.3,757.1 57.8,757 59.3,756.9 60.8,756.8 62.3,756.6 63.8,756.5 65.3,756.4 66.8,756.2 68.3,756.1 69.8,755.9 71.3,755.7 72.8,755.5 74.3,755.3 75.8,755.1 77.3,754.9 78.8,754.7 80.3,754.3 81.8,753.9 83.3,753.3 84.8,752.6 86.3,751.9 87.8,751.1 89.3,750.2 90.8,749.3 92.3,748.3 93.8,747.3 95.3,746.2 96.8,745.2 98.3,744.1 99.8,743.1 101.3,741.9 102.8,740.6 104.3,739.2 105.8,737.8 107.3,736.3 108.8,734.7 110.3,733 111.8,731.3 113.3,729.4 114.8,727.6 116.3,725.6 117.8,723.5 119.3,721.2 120.8,718.7 122.3,716 123.8,713.3 125.3,710.4 126.8,707.5 128.3,704.5 129.8,701.5 131.3,698.5 132.8,695.6 134.3,692.6 135.8,689.8 137.3,686.9 138.8,683.9 140.3,681 141.8,678 143.3,674.9 144.8,671.7 146.3,668.4 147.8,664.9 149.3,661.4 150.8,657.8 152.3,654.2 153.8,650.4 155.3,646.3 156.8,642 158.3,637.4 159.8,632.4 161.3,626.6 162.8,619.8 164.3,612.4 165.8,604.7 167.3,596.9 168.8,589.5 170.3,582 171.8,574.1 173.3,566.3 174.8,558.8 176.3,552.2 177.8,546.6 179.3,541.3 180.8,536.4 182.3,532.7 183.8,530.8 185.3,529.7 186.8,528.9 188.3,528.4 189.8,528.2 191.3,528.9 192.8,530.6 194.3,533.1 195.8,536 197.3,538.9 198.8,542.1 200.3,545.8 201.8,550 203.3,554.5 204.8,559.3 206.3,564.2 207.8,569.3 209.3,574.8 210.8,580.9 212.3,587.2 213.8,593.5 215.3,599.6 216.8,605.4 218.3,611.6 219.8,617.7 221.3,623.3 222.8,627.8 224.3,630.7 225.8,633.3 227.3,635.7 228.8,637.7 230.3,639.4 231.8,640.6 233.3,641.2 234.8,641.4 236.3,641.5 237.8,641.5 239.3,641.6 240.8,641.6 242.3,641.6 243.8,641.7 245.3,641.7 246.8,641.8 248.3,641.8 249.8,641.9 251.3,642 252.8,642.2 254.3,642.3 255.8,642.5 257.3,642.8 258.8,643.1 260.3,643.6 261.8,644.6 263.3,646 264.8,647.8 266.3,649.7 267.8,651.8 269.3,653.7 270.8,655.8 272.3,658.1 273.8,660.5 275.3,663 276.8,665.6 278.3,668.1 279.8,670.5 281.3,673 282.8,675.5 284.3,677.9 285.8,680.4 287.3,682.7 288.8,684.9 290.3,687 291.8,689 293.3,690.9 294.8,692.8 296.3,694.7 297.8,696.6 299.3,698.5 300.8,700.4 302.3,702.3 303.8,704.3 305.3,706.2 306.8,708.2 308.3,710.2 309.8,712.4 311.3,714.6 312.8,716.9 314.3,719.2 315.8,721.5 317.3,723.8 318.8,726 320.3,728.2 321.8,730.4 323.3,732.6 324.8,734.7 326.3,736.7 327.8,738.5 329.3,740.2 330.8,741.9 332.3,743.4 333.8,744.9 335.3,746.3 336.8,747.6 338.3,748.7 339.8,749.9 341.3,751 342.8,752 344.3,752.9 345.8,753.6 347.3,754 348.8,754.3 350.3,754.5 351.8,754.7 353.3,754.9 354.8,755.1 356.3,755.2 357.8,755.3 359.3,755.5 360.8,755.6 362.3,755.7 363.8,755.7 365.3,755.8 366.8,755.9 368.3,756 369.8,756.1 371.3,756.1 372.8,756.2 374.3,756.3 375.8,756.4 377.3,756.4 378.8,756.5 380.3,756.6 381.8,756.6 383.3,756.7 384.8,756.8 386.3,756.8 387.8,756.9 389.3,756.9 390.8,757 392.3,757.1 393.8,757.1 395.3,757.2 396.8,757.2 398.3,757.2 399.8,757.3 401.3,757.3 402.8,757.4 404.3,757.4 405.8,757.4 407.3,757.4 408.8,757.5 410.3,757.5 411.8,757.5 413.3,757.5 414.8,757.5 416,757.5" fill="none" stroke="#000" stroke-width="2.2" stroke-linejoin="round"/><g fill="#fff" stroke="#000" stroke-width="1.5"><circle cx="47.5" cy="754.8" r="2.5"/><circle cx="50.7" cy="758.5" r="2.5"/><circle cx="53.4" cy="755.6" r="2.5"/><circle cx="56.8" cy="755.5" r="2.5"/><circle cx="60.4" cy="757.2" r="2.5"/><circle cx="63.7" cy="759.3" r="2.5"/><circle cx="66.5" cy="755.8" r="2.5"/><circle cx="69.4" cy="754.0" r="2.5"/><circle cx="72.7" cy="756.3" r="2.5"/><circle cx="75.8" cy="755.3" r="2.5"/><circle cx="79.4" cy="753.3" r="2.5"/><circle cx="82.4" cy="757.3" r="2.5"/><circle cx="86.2" cy="750.1" r="2.5"/><circle cx="88.8" cy="749.4" r="2.5"/><circle cx="92.0" cy="752.7" r="2.5"/><circle cx="95.5" cy="749.8" r="2.5"/><circle cx="99.0" cy="742.8" r="2.5"/><circle cx="101.6" cy="741.6" r="2.5"/><circle cx="105.2" cy="738.4" r="2.5"/><circle cx="108.3" cy="739.0" r="2.5"/><circle cx="111.6" cy="733.2" r="2.5"/><circle cx="114.3" cy="723.0" r="2.5"/><circle cx="118.0" cy="725.2" r="2.5"/><circle cx="120.6" cy="716.7" r="2.5"/><circle cx="124.0" cy="706.6" r="2.5"/><circle cx="127.4" cy="703.6" r="2.5"/><circle cx="130.4" cy="702.8" r="2.5"/><circle cx="133.7" cy="695.8" r="2.5"/><circle cx="137.0" cy="687.7" r="2.5"/><circle cx="140.1" cy="688.2" r="2.5"/><circle cx="143.2" cy="681.0" r="2.5"/><circle cx="146.2" cy="670.7" r="2.5"/><circle cx="149.8" cy="657.6" r="2.5"/><circle cx="152.1" cy="659.1" r="2.5"/><circle cx="155.8" cy="639.9" r="2.5"/><circle cx="159.3" cy="634.3" r="2.5"/><circle cx="162.6" cy="620.0" r="2.5"/><circle cx="165.3" cy="609.0" r="2.5"/><circle cx="168.6" cy="590.0" r="2.5"/><circle cx="172.3" cy="577.7" r="2.5"/><circle cx="175.2" cy="555.3" r="2.5"/><circle cx="178.4" cy="536.0" r="2.5"/><circle cx="181.5" cy="530.5" r="2.5"/><circle cx="184.6" cy="530.5" r="2.5"/><circle cx="188.0" cy="532.3" r="2.5"/><circle cx="191.7" cy="523.0" r="2.5"/><circle cx="194.5" cy="529.9" r="2.5"/><circle cx="197.9" cy="540.3" r="2.5"/><circle cx="201.2" cy="548.8" r="2.5"/><circle cx="204.3" cy="555.7" r="2.5"/><circle cx="206.5" cy="562.4" r="2.5"/><circle cx="210.2" cy="577.5" r="2.5"/><circle cx="213.4" cy="600.2" r="2.5"/><circle cx="216.8" cy="611.5" r="2.5"/><circle cx="220.0" cy="626.1" r="2.5"/><circle cx="222.9" cy="631.0" r="2.5"/><circle cx="226.1" cy="635.9" r="2.5"/><circle cx="230.2" cy="633.8" r="2.5"/><circle cx="232.6" cy="641.7" r="2.5"/><circle cx="236.0" cy="638.3" r="2.5"/><circle cx="239.6" cy="641.7" r="2.5"/><circle cx="242.9" cy="642.4" r="2.5"/><circle cx="245.4" cy="640.6" r="2.5"/><circle cx="249.3" cy="638.6" r="2.5"/><circle cx="252.0" cy="643.5" r="2.5"/><circle cx="255.6" cy="644.5" r="2.5"/><circle cx="258.1" cy="648.3" r="2.5"/><circle cx="261.7" cy="644.5" r="2.5"/><circle cx="264.9" cy="647.2" r="2.5"/><circle cx="267.8" cy="651.1" r="2.5"/><circle cx="271.7" cy="652.0" r="2.5"/><circle cx="273.8" cy="663.5" r="2.5"/><circle cx="277.8" cy="669.6" r="2.5"/><circle cx="281.4" cy="669.8" r="2.5"/><circle cx="284.2" cy="679.3" r="2.5"/><circle cx="287.7" cy="686.1" r="2.5"/><circle cx="290.2" cy="682.9" r="2.5"/><circle cx="293.6" cy="686.3" r="2.5"/><circle cx="297.2" cy="694.2" r="2.5"/><circle cx="300.0" cy="696.7" r="2.5"/><circle cx="303.8" cy="704.5" r="2.5"/><circle cx="306.4" cy="709.8" r="2.5"/><circle cx="309.7" cy="714.2" r="2.5"/><circle cx="313.3" cy="716.2" r="2.5"/><circle cx="316.3" cy="723.6" r="2.5"/><circle cx="319.6" cy="728.7" r="2.5"/><circle cx="322.5" cy="729.3" r="2.5"/><circle cx="325.8" cy="732.6" r="2.5"/><circle cx="329.1" cy="740.0" r="2.5"/><circle cx="332.3" cy="741.7" r="2.5"/><circle cx="335.1" cy="743.7" r="2.5"/><circle cx="338.8" cy="748.2" r="2.5"/><circle cx="341.6" cy="746.3" r="2.5"/><circle cx="344.9" cy="744.2" r="2.5"/><circle cx="348.5" cy="753.6" r="2.5"/><circle cx="351.3" cy="751.2" r="2.5"/><circle cx="354.2" cy="756.5" r="2.5"/><circle cx="357.6" cy="756.3" r="2.5"/><circle cx="361.3" cy="757.1" r="2.5"/><circle cx="363.5" cy="753.5" r="2.5"/><circle cx="367.0" cy="753.8" r="2.5"/><circle cx="369.9" cy="751.3" r="2.5"/><circle cx="373.5" cy="754.9" r="2.5"/><circle cx="377.1" cy="755.7" r="2.5"/><circle cx="380.5" cy="752.3" r="2.5"/><circle cx="382.9" cy="757.3" r="2.5"/><circle cx="386.4" cy="754.5" r="2.5"/><circle cx="389.9" cy="759.5" r="2.5"/><circle cx="393.3" cy="756.1" r="2.5"/><circle cx="396.1" cy="757.7" r="2.5"/><circle cx="399.3" cy="759.6" r="2.5"/><circle cx="402.4" cy="758.2" r="2.5"/><circle cx="405.0" cy="759.1" r="2.5"/><circle cx="409.4" cy="757.4" r="2.5"/><circle cx="412.4" cy="753.7" r="2.5"/><circle cx="415.2" cy="753.9" r="2.5"/></g><path d="M588,508.2 590,507.8 592,507.4 594,506.8 596,506 598,505.2 600,504.1 602,502.8 604,501.2 606,499.4 608,497.3 610,494.8 612,492 614,488.8 616,485.2 618,481.3 620,476.9 622,472.2 624,467.1 626,461.8 628,456.2 630,450.5 632,444.6 634,438.8 636,433.1 638,427.7 640,422.5 642,417.8 644,413.6 646,410 648,407.2 650,405.2 652,404 654,403.6 656,404.1 658,405.5 660,407.7 662,410.7 664,414.4 666,418.7 668,423.5 670,428.7 672,434.3 674,440 676,445.8 678,451.6 680,457.3 682,462.9 684,468.2 686,473.2 688,477.8 690,482.1 692,486 694,489.5 696,492.6 698,495.3 700,497.7 702,499.8 704,501.6 706,503.1 708,504.3 710,505.4 712,506.2 714,506.9 716,507.5 718,507.9 720,508.3 L720.0,508.4 L588.0,508.4 Z" fill="url(#b1_g0)"/><path d="M484,509.4 576,509.2 578,509.1 580,509 582,508.9 584,508.7 586,508.5 588,508.2 590,507.8 592,507.4 594,506.8 596,506 598,505.2 600,504.1 602,502.8 604,501.2 606,499.4 608,497.3 610,494.8 612,492 614,488.8 616,485.2 618,481.3 620,476.9 622,472.2 624,467.1 626,461.8 628,456.2 630,450.5 632,444.6 634,438.8 636,433.1 638,427.7 640,422.5 642,417.8 644,413.6 646,410 648,407.2 650,405.2 652,404 654,403.6 656,404.1 658,405.5 660,407.7 662,410.7 664,414.4 666,418.7 668,423.5 670,428.7 672,434.3 674,440 676,445.8 678,451.6 680,457.3 682,462.9 684,468.2 686,473.2 688,477.8 690,482.1 692,486 694,489.5 696,492.6 698,495.3 700,497.7 702,499.8 704,501.6 706,503.1 708,504.3 710,505.4 712,506.2 714,506.9 716,507.5 718,507.9 720,508.3 722,508.5 724,508.7 726,508.9 728,509 730,509.1 732,509.2 858,509.4" fill="none" stroke="#1e7a1e" stroke-width="1.8" stroke-dasharray="14.5 9"/><path d="M612,508.2 614,507.9 616,507.5 618,507.1 620,506.5 622,505.8 624,505 626,504.1 628,502.9 630,501.6 632,500.1 634,498.4 636,496.5 638,494.4 640,492 642,489.4 644,486.6 646,483.6 648,480.3 650,476.9 652,473.4 654,469.8 656,466.1 658,462.4 660,458.8 662,455.3 664,452 666,448.9 668,446.1 670,443.6 672,441.5 674,439.9 676,438.8 678,438.1 680,438 682,438.4 684,439.3 686,440.7 688,442.5 690,444.8 692,447.4 694,450.4 696,453.6 698,457 700,460.6 702,464.3 704,467.9 706,471.6 708,475.2 710,478.6 712,482 714,485.1 716,488 718,490.7 720,493.2 722,495.5 724,497.5 726,499.3 728,500.9 730,502.3 732,503.5 734,504.5 736,505.4 738,506.2 740,506.8 742,507.3 744,507.7 746,508.1 748,508.4 L748.0,508.4 L612.0,508.4 Z" fill="url(#b1_g1)"/><path d="M484,509.4 598,509.2 600,509.2 602,509.1 604,509 606,508.9 608,508.7 610,508.5 612,508.2 614,507.9 616,507.5 618,507.1 620,506.5 622,505.8 624,505 626,504.1 628,502.9 630,501.6 632,500.1 634,498.4 636,496.5 638,494.4 640,492 642,489.4 644,486.6 646,483.6 648,480.3 650,476.9 652,473.4 654,469.8 656,466.1 658,462.4 660,458.8 662,455.3 664,452 666,448.9 668,446.1 670,443.6 672,441.5 674,439.9 676,438.8 678,438.1 680,438 682,438.4 684,439.3 686,440.7 688,442.5 690,444.8 692,447.4 694,450.4 696,453.6 698,457 700,460.6 702,464.3 704,467.9 706,471.6 708,475.2 710,478.6 712,482 714,485.1 716,488 718,490.7 720,493.2 722,495.5 724,497.5 726,499.3 728,500.9 730,502.3 732,503.5 734,504.5 736,505.4 738,506.2 740,506.8 742,507.3 744,507.7 746,508.1 748,508.4 750,508.6 752,508.8 754,508.9 756,509 758,509.1 760,509.2 762,509.2 858,509.4" fill="none" stroke="#1a1a8c" stroke-width="1.8" stroke-dasharray="14.5 9"/><path d="M580,508.3 582,507.8 584,507.1 586,506.2 588,505 590,503.4 592,501.4 594,498.9 596,495.8 598,492 600,487.6 602,482.5 604,476.7 606,470.2 608,463.3 610,455.9 612,448.3 614,440.7 616,433.3 618,426.5 620,420.4 622,415.4 624,411.7 626,409.4 628,408.6 630,409.4 632,411.7 634,415.4 636,420.4 638,426.5 640,433.3 642,440.7 644,448.3 646,455.9 648,463.3 650,470.2 652,476.7 654,482.5 656,487.6 658,492 660,495.8 662,498.9 664,501.4 666,503.4 668,505 670,506.2 672,507.1 674,507.8 676,508.3 L676.0,508.4 L580.0,508.4 Z" fill="url(#b1_g2)"/><path d="M484,509.4 572,509.2 574,509.1 576,508.9 578,508.6 580,508.3 582,507.8 584,507.1 586,506.2 588,505 590,503.4 592,501.4 594,498.9 596,495.8 598,492 600,487.6 602,482.5 604,476.7 606,470.2 608,463.3 610,455.9 612,448.3 614,440.7 616,433.3 618,426.5 620,420.4 622,415.4 624,411.7 626,409.4 628,408.6 630,409.4 632,411.7 634,415.4 636,420.4 638,426.5 640,433.3 642,440.7 644,448.3 646,455.9 648,463.3 650,470.2 652,476.7 654,482.5 656,487.6 658,492 660,495.8 662,498.9 664,501.4 666,503.4 668,505 670,506.2 672,507.1 674,507.8 676,508.3 678,508.6 680,508.9 682,509.1 684,509.2 858,509.4" fill="none" stroke="#1a1a8c" stroke-width="1.8" stroke-dasharray="14.5 9"/><path d="M546,508.2 548,507.7 550,507 552,506.1 554,505 556,503.5 558,501.7 560,499.6 562,497 564,494.1 566,490.7 568,487.1 570,483.3 572,479.3 574,475.3 576,471.4 578,467.9 580,464.8 582,462.4 584,460.7 586,459.8 588,459.8 590,460.7 592,462.4 594,464.8 596,467.9 598,471.4 600,475.3 602,479.3 604,483.3 606,487.1 608,490.7 610,494.1 612,497 614,499.6 616,501.7 618,503.5 620,505 622,506.1 624,507 626,507.7 628,508.2 L628.0,508.4 L546.0,508.4 Z" fill="url(#b1_g3)"/><path d="M484,509.4 536,509.2 538,509.2 540,509 542,508.8 544,508.6 546,508.2 548,507.7 550,507 552,506.1 554,505 556,503.5 558,501.7 560,499.6 562,497 564,494.1 566,490.7 568,487.1 570,483.3 572,479.3 574,475.3 576,471.4 578,467.9 580,464.8 582,462.4 584,460.7 586,459.8 588,459.8 590,460.7 592,462.4 594,464.8 596,467.9 598,471.4 600,475.3 602,479.3 604,483.3 606,487.1 608,490.7 610,494.1 612,497 614,499.6 616,501.7 618,503.5 620,505 622,506.1 624,507 626,507.7 628,508.2 630,508.6 632,508.8 634,509 636,509.2 638,509.2 858,509.4" fill="none" stroke="#1e7a1e" stroke-width="1.8" stroke-dasharray="14.5 9"/><path d="M696,508.1 698,507.6 700,507 702,506.1 704,505.1 706,503.9 708,502.5 710,500.8 712,498.9 714,496.9 716,494.6 718,492.3 720,490 722,487.8 724,485.7 726,483.9 728,482.4 730,481.4 732,480.8 734,480.7 736,481.2 738,482.1 740,483.4 742,485.1 744,487.1 746,489.3 748,491.6 750,494 752,496.2 754,498.3 756,500.3 758,502 760,503.5 762,504.8 764,505.9 766,506.7 768,507.4 770,508 772,508.4 L772.0,508.4 L696.0,508.4 Z" fill="url(#b1_g4)"/><path d="M484,509.4 686,509.2 688,509.1 690,509 692,508.8 694,508.5 696,508.1 698,507.6 700,507 702,506.1 704,505.1 706,503.9 708,502.5 710,500.8 712,498.9 714,496.9 716,494.6 718,492.3 720,490 722,487.8 724,485.7 726,483.9 728,482.4 730,481.4 732,480.8 734,480.7 736,481.2 738,482.1 740,483.4 742,485.1 744,487.1 746,489.3 748,491.6 750,494 752,496.2 754,498.3 756,500.3 758,502 760,503.5 762,504.8 764,505.9 766,506.7 768,507.4 770,508 772,508.4 774,508.7 776,508.9 778,509.1 780,509.2 858,509.4" fill="none" stroke="#1e7a1e" stroke-width="1.8" stroke-dasharray="14.5 9"/><path d="M712,508.4 714,508 716,507.4 718,506.6 720,505.7 722,504.5 724,503.1 726,501.6 728,499.8 730,498 732,496.2 734,494.3 736,492.7 738,491.3 740,490.2 742,489.6 744,489.4 746,489.7 748,490.4 750,491.5 752,493 754,494.7 756,496.5 758,498.4 760,500.2 762,501.9 764,503.4 766,504.7 768,505.9 770,506.8 772,507.5 774,508.1 L774.0,508.4 L712.0,508.4 Z" fill="url(#b1_g5)"/><path d="M484,509.4 704,509.2 706,509.1 708,508.9 710,508.7 712,508.4 714,508 716,507.4 718,506.6 720,505.7 722,504.5 724,503.1 726,501.6 728,499.8 730,498 732,496.2 734,494.3 736,492.7 738,491.3 740,490.2 742,489.6 744,489.4 746,489.7 748,490.4 750,491.5 752,493 754,494.7 756,496.5 758,498.4 760,500.2 762,501.9 764,503.4 766,504.7 768,505.9 770,506.8 772,507.5 774,508.1 776,508.5 778,508.8 780,509 782,509.1 784,509.2 858,509.4" fill="none" stroke="#1a1a8c" stroke-width="1.8" stroke-dasharray="14.5 9"/><path d="M484.8,509.4 486.3,509.4 487.8,509.4 489.3,509.4 490.8,509.4 492.3,509.4 493.8,509.4 495.3,509.4 496.8,509.4 498.3,509.3 499.8,509.3 501.3,509.3 502.8,509.3 504.3,509.3 505.8,509.3 507.3,509.2 508.8,509.2 510.3,509.2 511.8,509.2 513.3,509.1 514.8,509.1 516.3,509.1 517.8,509 519.3,509 520.8,509 522.3,508.9 523.8,508.9 525.3,508.8 526.8,508.8 528.3,508.7 529.8,508.7 531.3,508.6 532.8,508.5 534.3,508.5 535.8,508.4 537.3,508.3 538.8,508.3 540.3,508.2 541.8,508.1 543.3,508 544.8,507.8 546.3,507.3 547.8,506.4 549.3,505.4 550.8,504.1 552.3,502.6 553.8,501.1 555.3,499.5 556.8,497.8 558.3,496.1 559.8,494.2 561.3,492 562.8,489.5 564.3,486.8 565.8,484 567.3,481.1 568.8,478.1 570.3,475.1 571.8,471.8 573.3,468 574.8,464.1 576.3,460.1 577.8,456.4 579.3,453.1 580.8,450.4 582.3,448.5 583.8,446.7 585.3,445 586.8,443.6 588.3,442.6 589.8,442 591.3,441.9 592.8,442.1 594.3,442.5 595.8,442.8 597.3,443.1 598.8,443.3 600.3,443 601.8,441.8 603.3,439.6 604.8,436.8 606.3,433.4 607.8,429.7 609.3,424.9 610.8,417.4 612.3,408.6 613.8,400.3 615.3,392.8 616.8,385.3 618.3,377.7 619.8,370.6 621.3,364 622.8,358.2 624.3,352.8 625.8,347.4 627.3,342.3 628.8,338 630.3,334.8 631.8,333.1 633.3,332.3 634.8,331.6 636.3,331 637.8,330.6 639.3,330.4 640.8,330.3 642.3,330.6 643.8,331.2 645.3,332.2 646.8,333.3 648.3,334.5 649.8,335.7 651.3,336.9 652.8,338 654.3,339 655.8,340 657.3,341 658.8,342.1 660.3,343.2 661.8,344.4 663.3,345.7 664.8,347.1 666.3,348.7 667.8,350.5 669.3,352.8 670.8,355.4 672.3,358.4 673.8,361.6 675.3,365 676.8,368.6 678.3,372.2 679.8,375.9 681.3,380.1 682.8,384.5 684.3,389.2 685.8,393.9 687.3,398.7 688.8,403.5 690.3,408.6 691.8,413.8 693.3,419 694.8,424 696.3,428.7 697.8,433.4 699.3,438.2 700.8,442.9 702.3,447 703.8,450.3 705.3,452.4 706.8,453.9 708.3,455.3 709.8,456.5 711.3,457.6 712.8,458.5 714.3,459.1 715.8,459.4 717.3,459.5 718.8,458.9 720.3,457.8 721.8,456.3 723.3,454.6 724.8,452.8 726.3,451.1 727.8,449.8 729.3,448.7 730.8,447.7 732.3,446.9 733.8,446.4 735.3,446.5 736.8,447.6 738.3,449.6 739.8,452 741.3,454.6 742.8,457.2 744.3,459.7 745.8,462.5 747.3,465.5 748.8,468.8 750.3,472.1 751.8,475.3 753.3,478.4 754.8,481.2 756.3,483.8 757.8,486.4 759.3,489 760.8,491.4 762.3,493.8 763.8,495.9 765.3,497.7 766.8,499.2 768.3,500.5 769.8,501.8 771.3,503 772.8,504.1 774.3,505.1 775.8,505.8 777.3,506.3 778.8,506.5 780.3,506.7 781.8,506.8 783.3,506.9 784.8,507 786.3,507.1 787.8,507.3 789.3,507.4 790.8,507.5 792.3,507.6 793.8,507.7 795.3,507.8 796.8,507.9 798.3,507.9 799.8,508 801.3,508.1 802.8,508.2 804.3,508.3 805.8,508.3 807.3,508.4 808.8,508.5 810.3,508.5 811.8,508.6 813.3,508.7 814.8,508.7 816.3,508.8 817.8,508.8 819.3,508.9 820.8,508.9 822.3,509 823.8,509 825.3,509 826.8,509.1 828.3,509.1 829.8,509.1 831.3,509.2 832.8,509.2 834.3,509.2 835.8,509.2 837.3,509.3 838.8,509.3 840.3,509.3 841.8,509.3 843.3,509.3 844.8,509.3 846.3,509.4 847.8,509.4 849.3,509.4 850.8,509.4 852.3,509.4 853.8,509.4 855.3,509.4 856.8,509.4 857.8,509.4" fill="none" stroke="#000" stroke-width="2.2" stroke-linejoin="round"/><g fill="#fff" stroke="#000" stroke-width="1.5"><circle cx="484.9" cy="510.6" r="2.5"/><circle cx="487.6" cy="507.4" r="2.5"/><circle cx="491.0" cy="515.0" r="2.5"/><circle cx="494.4" cy="509.6" r="2.5"/><circle cx="497.7" cy="510.0" r="2.5"/><circle cx="500.7" cy="506.3" r="2.5"/><circle cx="503.8" cy="513.1" r="2.5"/><circle cx="507.3" cy="508.4" r="2.5"/><circle cx="510.0" cy="509.1" r="2.5"/><circle cx="513.6" cy="507.6" r="2.5"/><circle cx="517.1" cy="507.7" r="2.5"/><circle cx="519.9" cy="510.9" r="2.5"/><circle cx="523.3" cy="511.5" r="2.5"/><circle cx="526.3" cy="507.8" r="2.5"/><circle cx="529.7" cy="509.2" r="2.5"/><circle cx="533.2" cy="509.5" r="2.5"/><circle cx="536.0" cy="509.4" r="2.5"/><circle cx="539.4" cy="505.6" r="2.5"/><circle cx="542.4" cy="507.3" r="2.5"/><circle cx="546.0" cy="506.3" r="2.5"/><circle cx="549.1" cy="502.1" r="2.5"/><circle cx="552.0" cy="506.1" r="2.5"/><circle cx="555.1" cy="503.1" r="2.5"/><circle cx="557.8" cy="496.0" r="2.5"/><circle cx="561.6" cy="491.1" r="2.5"/><circle cx="564.3" cy="488.3" r="2.5"/><circle cx="567.3" cy="483.1" r="2.5"/><circle cx="571.3" cy="477.0" r="2.5"/><circle cx="574.3" cy="460.6" r="2.5"/><circle cx="577.4" cy="455.1" r="2.5"/><circle cx="581.0" cy="449.4" r="2.5"/><circle cx="584.1" cy="448.0" r="2.5"/><circle cx="587.6" cy="437.8" r="2.5"/><circle cx="590.3" cy="443.6" r="2.5"/><circle cx="593.8" cy="441.0" r="2.5"/><circle cx="596.7" cy="442.8" r="2.5"/><circle cx="600.0" cy="441.6" r="2.5"/><circle cx="603.0" cy="435.8" r="2.5"/><circle cx="606.3" cy="438.8" r="2.5"/><circle cx="609.3" cy="427.7" r="2.5"/><circle cx="613.4" cy="406.8" r="2.5"/><circle cx="616.7" cy="388.8" r="2.5"/><circle cx="619.7" cy="373.3" r="2.5"/><circle cx="622.0" cy="361.4" r="2.5"/><circle cx="626.2" cy="345.7" r="2.5"/><circle cx="629.0" cy="334.4" r="2.5"/><circle cx="631.7" cy="334.4" r="2.5"/><circle cx="635.2" cy="333.0" r="2.5"/><circle cx="638.8" cy="327.8" r="2.5"/><circle cx="641.4" cy="330.7" r="2.5"/><circle cx="645.5" cy="331.1" r="2.5"/><circle cx="647.9" cy="335.7" r="2.5"/><circle cx="651.8" cy="335.4" r="2.5"/><circle cx="654.3" cy="339.4" r="2.5"/><circle cx="657.8" cy="347.5" r="2.5"/><circle cx="660.4" cy="339.1" r="2.5"/><circle cx="664.1" cy="348.2" r="2.5"/><circle cx="666.6" cy="348.1" r="2.5"/><circle cx="670.7" cy="353.1" r="2.5"/><circle cx="673.8" cy="362.2" r="2.5"/><circle cx="677.0" cy="370.6" r="2.5"/><circle cx="680.1" cy="382.1" r="2.5"/><circle cx="683.1" cy="386.7" r="2.5"/><circle cx="686.8" cy="393.8" r="2.5"/><circle cx="689.5" cy="403.4" r="2.5"/><circle cx="692.5" cy="426.6" r="2.5"/><circle cx="696.2" cy="436.4" r="2.5"/><circle cx="699.5" cy="438.7" r="2.5"/><circle cx="702.3" cy="448.7" r="2.5"/><circle cx="705.6" cy="455.8" r="2.5"/><circle cx="708.6" cy="456.5" r="2.5"/><circle cx="712.2" cy="457.7" r="2.5"/><circle cx="715.2" cy="460.9" r="2.5"/><circle cx="718.6" cy="459.0" r="2.5"/><circle cx="721.6" cy="455.1" r="2.5"/><circle cx="725.0" cy="452.7" r="2.5"/><circle cx="727.6" cy="449.0" r="2.5"/><circle cx="731.4" cy="448.5" r="2.5"/><circle cx="734.2" cy="448.4" r="2.5"/><circle cx="737.8" cy="450.9" r="2.5"/><circle cx="741.3" cy="452.8" r="2.5"/><circle cx="744.2" cy="458.5" r="2.5"/><circle cx="747.5" cy="470.0" r="2.5"/><circle cx="750.6" cy="475.3" r="2.5"/><circle cx="753.4" cy="481.4" r="2.5"/><circle cx="756.5" cy="492.4" r="2.5"/><circle cx="760.4" cy="485.1" r="2.5"/><circle cx="762.4" cy="499.4" r="2.5"/><circle cx="766.2" cy="500.5" r="2.5"/><circle cx="769.2" cy="501.9" r="2.5"/><circle cx="772.6" cy="505.8" r="2.5"/><circle cx="775.9" cy="509.7" r="2.5"/><circle cx="779.0" cy="509.6" r="2.5"/><circle cx="782.4" cy="508.1" r="2.5"/><circle cx="785.1" cy="503.0" r="2.5"/><circle cx="789.1" cy="504.5" r="2.5"/><circle cx="791.9" cy="506.8" r="2.5"/><circle cx="794.9" cy="508.3" r="2.5"/><circle cx="798.0" cy="505.2" r="2.5"/><circle cx="801.9" cy="506.3" r="2.5"/><circle cx="805.0" cy="509.8" r="2.5"/><circle cx="808.5" cy="509.5" r="2.5"/><circle cx="810.7" cy="507.1" r="2.5"/><circle cx="814.3" cy="511.6" r="2.5"/><circle cx="817.7" cy="507.7" r="2.5"/><circle cx="820.9" cy="508.1" r="2.5"/><circle cx="824.2" cy="509.4" r="2.5"/><circle cx="827.5" cy="509.9" r="2.5"/><circle cx="830.7" cy="509.1" r="2.5"/><circle cx="833.8" cy="508.9" r="2.5"/><circle cx="837.0" cy="509.8" r="2.5"/><circle cx="840.0" cy="508.3" r="2.5"/><circle cx="843.1" cy="510.4" r="2.5"/><circle cx="845.7" cy="512.2" r="2.5"/><circle cx="848.9" cy="508.9" r="2.5"/><circle cx="852.7" cy="511.1" r="2.5"/><circle cx="856.1" cy="509.3" r="2.5"/></g><path d="M571,754.8 573,754.3 575,753.7 577,752.8 579,751.6 581,750 583,748 585,745.3 587,742 589,737.8 591,732.7 593,726.6 595,719.3 597,710.9 599,701.4 601,690.8 603,679.2 605,666.7 607,653.8 609,640.5 611,627.4 613,614.8 615,603.2 617,592.9 619,584.4 621,577.9 623,573.9 625,572.3 627,573.4 629,576.9 631,582.9 633,591 635,601 637,612.4 639,624.8 641,637.9 643,651.1 645,664.2 647,676.7 649,688.5 651,699.4 653,709.1 655,717.7 657,725.2 659,731.6 661,736.9 663,741.2 665,744.7 667,747.5 669,749.7 671,751.3 673,752.6 675,753.5 677,754.2 679,754.7 L679.0,754.8 L571.0,754.8 Z" fill="url(#b2_g0)"/><path d="M479,755.8 563,755.6 565,755.5 567,755.3 569,755.1 571,754.8 573,754.3 575,753.7 577,752.8 579,751.6 581,750 583,748 585,745.3 587,742 589,737.8 591,732.7 593,726.6 595,719.3 597,710.9 599,701.4 601,690.8 603,679.2 605,666.7 607,653.8 609,640.5 611,627.4 613,614.8 615,603.2 617,592.9 619,584.4 621,577.9 623,573.9 625,572.3 627,573.4 629,576.9 631,582.9 633,591 635,601 637,612.4 639,624.8 641,637.9 643,651.1 645,664.2 647,676.7 649,688.5 651,699.4 653,709.1 655,717.7 657,725.2 659,731.6 661,736.9 663,741.2 665,744.7 667,747.5 669,749.7 671,751.3 673,752.6 675,753.5 677,754.2 679,754.7 681,755.1 683,755.3 685,755.5 687,755.6 851,755.8" fill="none" stroke="#2a0e10" stroke-width="1.8" stroke-dasharray="14.5 9"/><path d="M609,754.5 611,754.2 613,753.8 615,753.3 617,752.7 619,752 621,751.2 623,750.2 625,749.1 627,747.8 629,746.3 631,744.5 633,742.5 635,740.3 637,737.9 639,735.2 641,732.2 643,728.9 645,725.4 647,721.7 649,717.7 651,713.6 653,709.3 655,705 657,700.5 659,696.1 661,691.7 663,687.4 665,683.3 667,679.4 669,675.9 671,672.7 673,669.9 675,667.6 677,665.9 679,664.6 681,664 683,663.9 685,664.5 687,665.6 689,667.2 691,669.4 693,672.1 695,675.2 697,678.7 699,682.5 701,686.5 703,690.8 705,695.2 707,699.6 709,704.1 711,708.5 713,712.8 715,716.9 717,720.9 719,724.7 721,728.2 723,731.5 725,734.6 727,737.3 729,739.9 731,742.1 733,744.1 735,745.9 737,747.5 739,748.8 741,750 743,751 745,751.9 747,752.6 749,753.2 751,753.7 753,754.1 755,754.5 757,754.8 L757.0,754.8 L609.0,754.8 Z" fill="url(#b2_g1)"/><path d="M479,755.8 593,755.6 595,755.6 597,755.5 599,755.4 601,755.3 603,755.2 605,755 607,754.8 609,754.5 611,754.2 613,753.8 615,753.3 617,752.7 619,752 621,751.2 623,750.2 625,749.1 627,747.8 629,746.3 631,744.5 633,742.5 635,740.3 637,737.9 639,735.2 641,732.2 643,728.9 645,725.4 647,721.7 649,717.7 651,713.6 653,709.3 655,705 657,700.5 659,696.1 661,691.7 663,687.4 665,683.3 667,679.4 669,675.9 671,672.7 673,669.9 675,667.6 677,665.9 679,664.6 681,664 683,663.9 685,664.5 687,665.6 689,667.2 691,669.4 693,672.1 695,675.2 697,678.7 699,682.5 701,686.5 703,690.8 705,695.2 707,699.6 709,704.1 711,708.5 713,712.8 715,716.9 717,720.9 719,724.7 721,728.2 723,731.5 725,734.6 727,737.3 729,739.9 731,742.1 733,744.1 735,745.9 737,747.5 739,748.8 741,750 743,751 745,751.9 747,752.6 749,753.2 751,753.7 753,754.1 755,754.5 757,754.8 759,755 761,755.2 763,755.3 765,755.4 767,755.5 769,755.6 771,755.6 851,755.8" fill="none" stroke="#2a0e10" stroke-width="1.8" stroke-dasharray="14.5 9"/><path d="M505,754.6 507,754.3 509,753.9 511,753.4 513,752.9 515,752.2 517,751.3 519,750.4 521,749.3 523,747.9 525,746.4 527,744.7 529,742.8 531,740.6 533,738.2 535,735.6 537,732.7 539,729.6 541,726.3 543,722.7 545,719.1 547,715.3 549,711.4 551,707.4 553,703.5 555,699.7 557,696 559,692.5 561,689.2 563,686.3 565,683.7 567,681.6 569,679.9 571,678.8 573,678.1 575,678 577,678.5 579,679.4 581,680.9 583,682.8 585,685.2 587,688 589,691.1 591,694.6 593,698.2 595,702 597,705.9 599,709.8 601,713.7 603,717.6 605,721.3 607,724.9 609,728.3 611,731.5 613,734.5 615,737.2 617,739.7 619,742 621,744 623,745.8 625,747.4 627,748.8 629,750 631,751 633,751.9 635,752.6 637,753.2 639,753.7 641,754.1 643,754.5 645,754.8 L645.0,754.8 L505.0,754.8 Z" fill="url(#b2_g2)"/><path d="M479,755.8 491,755.6 493,755.6 495,755.5 497,755.4 499,755.2 501,755.1 503,754.9 505,754.6 507,754.3 509,753.9 511,753.4 513,752.9 515,752.2 517,751.3 519,750.4 521,749.3 523,747.9 525,746.4 527,744.7 529,742.8 531,740.6 533,738.2 535,735.6 537,732.7 539,729.6 541,726.3 543,722.7 545,719.1 547,715.3 549,711.4 551,707.4 553,703.5 555,699.7 557,696 559,692.5 561,689.2 563,686.3 565,683.7 567,681.6 569,679.9 571,678.8 573,678.1 575,678 577,678.5 579,679.4 581,680.9 583,682.8 585,685.2 587,688 589,691.1 591,694.6 593,698.2 595,702 597,705.9 599,709.8 601,713.7 603,717.6 605,721.3 607,724.9 609,728.3 611,731.5 613,734.5 615,737.2 617,739.7 619,742 621,744 623,745.8 625,747.4 627,748.8 629,750 631,751 633,751.9 635,752.6 637,753.2 639,753.7 641,754.1 643,754.5 645,754.8 647,755 649,755.2 651,755.3 653,755.4 655,755.5 657,755.6 659,755.6 851,755.8" fill="none" stroke="#2a0e10" stroke-width="1.8" stroke-dasharray="14.5 9"/><path d="M561,754.8 563,754.3 565,753.7 567,752.9 569,751.9 571,750.5 573,748.8 575,746.8 577,744.4 579,741.6 581,738.4 583,735 585,731.3 587,727.6 589,723.8 591,720.3 593,717.2 595,714.5 597,712.5 599,711.2 601,710.8 603,711.2 605,712.5 607,714.5 609,717.2 611,720.3 613,723.8 615,727.6 617,731.3 619,735 621,738.4 623,741.6 625,744.4 627,746.8 629,748.8 631,750.5 633,751.9 635,752.9 637,753.7 639,754.3 641,754.8 L641.0,754.8 L561.0,754.8 Z" fill="url(#b2_g3)"/><path d="M479,755.8 553,755.6 555,755.5 557,755.3 559,755.1 561,754.8 563,754.3 565,753.7 567,752.9 569,751.9 571,750.5 573,748.8 575,746.8 577,744.4 579,741.6 581,738.4 583,735 585,731.3 587,727.6 589,723.8 591,720.3 593,717.2 595,714.5 597,712.5 599,711.2 601,710.8 603,711.2 605,712.5 607,714.5 609,717.2 611,720.3 613,723.8 615,727.6 617,731.3 619,735 621,738.4 623,741.6 625,744.4 627,746.8 629,748.8 631,750.5 633,751.9 635,752.9 637,753.7 639,754.3 641,754.8 643,755.1 645,755.3 647,755.5 649,755.6 851,755.8" fill="none" stroke="#4a1a10" stroke-width="1.8" stroke-dasharray="14.5 9"/><path d="M661,754.8 663,754.5 665,754.2 667,753.8 669,753.4 671,752.9 673,752.4 675,751.7 677,751.1 679,750.3 681,749.5 683,748.6 685,747.7 687,746.7 689,745.7 691,744.7 693,743.7 695,742.8 697,741.9 699,741.1 701,740.3 703,739.7 705,739.2 707,738.9 709,738.7 711,738.6 713,738.7 715,739 717,739.4 719,739.9 721,740.5 723,741.3 725,742.2 727,743.1 729,744 731,745 733,746 735,747 737,747.9 739,748.9 741,749.7 743,750.5 745,751.3 747,751.9 749,752.5 751,753.1 753,753.5 755,753.9 757,754.3 759,754.6 L759.0,754.8 L661.0,754.8 Z" fill="url(#b2_g4)"/><path d="M479,755.8 647,755.6 649,755.6 651,755.5 653,755.4 655,755.3 657,755.1 659,755 661,754.8 663,754.5 665,754.2 667,753.8 669,753.4 671,752.9 673,752.4 675,751.7 677,751.1 679,750.3 681,749.5 683,748.6 685,747.7 687,746.7 689,745.7 691,744.7 693,743.7 695,742.8 697,741.9 699,741.1 701,740.3 703,739.7 705,739.2 707,738.9 709,738.7 711,738.6 713,738.7 715,739 717,739.4 719,739.9 721,740.5 723,741.3 725,742.2 727,743.1 729,744 731,745 733,746 735,747 737,747.9 739,748.9 741,749.7 743,750.5 745,751.3 747,751.9 749,752.5 751,753.1 753,753.5 755,753.9 757,754.3 759,754.6 761,754.8 763,755 765,755.2 767,755.3 769,755.4 771,755.5 773,755.6 775,755.6 851,755.8" fill="none" stroke="#4a1a10" stroke-width="1.8" stroke-dasharray="14.5 9"/><path d="M503,754.8 505,754.4 507,753.9 509,753.3 511,752.5 513,751.6 515,750.5 517,749.3 519,747.9 521,746.3 523,744.7 525,743 527,741.3 529,739.7 531,738.2 533,736.9 535,735.8 537,735.1 539,734.7 541,734.7 543,735.1 545,735.8 547,736.9 549,738.2 551,739.7 553,741.3 555,743 557,744.7 559,746.3 561,747.9 563,749.3 565,750.5 567,751.6 569,752.5 571,753.3 573,753.9 575,754.4 577,754.8 L577.0,754.8 L503.0,754.8 Z" fill="url(#b2_g5)"/><path d="M479,755.8 493,755.6 495,755.6 497,755.5 499,755.3 501,755.1 503,754.8 505,754.4 507,753.9 509,753.3 511,752.5 513,751.6 515,750.5 517,749.3 519,747.9 521,746.3 523,744.7 525,743 527,741.3 529,739.7 531,738.2 533,736.9 535,735.8 537,735.1 539,734.7 541,734.7 543,735.1 545,735.8 547,736.9 549,738.2 551,739.7 553,741.3 555,743 557,744.7 559,746.3 561,747.9 563,749.3 565,750.5 567,751.6 569,752.5 571,753.3 573,753.9 575,754.4 577,754.8 579,755.1 581,755.3 583,755.5 585,755.6 587,755.6 851,755.8" fill="none" stroke="#4a1a10" stroke-width="1.8" stroke-dasharray="14.5 9"/><path d="M705,754.7 707,754.2 709,753.6 711,752.9 713,751.9 715,750.8 717,749.5 719,748.1 721,746.4 723,744.7 725,742.9 727,741.1 729,739.4 731,737.9 733,736.7 735,735.7 737,735.2 739,735 741,735.3 743,736 745,737 747,738.4 749,739.9 751,741.7 753,743.5 755,745.2 757,746.9 759,748.5 761,750 763,751.2 765,752.2 767,753.1 769,753.8 771,754.3 773,754.8 L773.0,754.8 L705.0,754.8 Z" fill="url(#b2_g6)"/><path d="M479,755.8 695,755.6 697,755.6 699,755.4 701,755.2 703,755 705,754.7 707,754.2 709,753.6 711,752.9 713,751.9 715,750.8 717,749.5 719,748.1 721,746.4 723,744.7 725,742.9 727,741.1 729,739.4 731,737.9 733,736.7 735,735.7 737,735.2 739,735 741,735.3 743,736 745,737 747,738.4 749,739.9 751,741.7 753,743.5 755,745.2 757,746.9 759,748.5 761,750 763,751.2 765,752.2 767,753.1 769,753.8 771,754.3 773,754.8 775,755.1 777,755.3 779,755.5 781,755.6 851,755.8" fill="none" stroke="#2a0e10" stroke-width="1.8" stroke-dasharray="14.5 9"/><path d="M479,750 480.5,751 482,751.9 483.5,752.7 485,753.4 486.5,754 488,754.6 489.5,755 491,755.2 492.5,755.4 494,755.4 495.5,755.3 497,755.1 498.5,754.9 500,754.5 501.5,754.1 503,753.7 504.5,753.2 506,752.7 507.5,752.1 509,751.5 510.5,751 512,750.2 513.5,749.4 515,748.3 516.5,747.1 518,745.9 519.5,744.6 521,743.1 522.5,741.5 524,739.7 525.5,737.6 527,735.1 528.5,731.9 530,728.3 531.5,724.6 533,721 534.5,717.5 536,713.9 537.5,710.2 539,706.6 540.5,703.1 542,699.6 543.5,696.2 545,692.8 546.5,689.5 548,686.6 549.5,683.8 551,681.2 552.5,679 554,677.5 555.5,676.2 557,675.2 558.5,674.3 560,673.5 561.5,672.8 563,672 564.5,671.4 566,670.8 567.5,670.3 569,669.7 570.5,669.1 572,668.4 573.5,667.5 575,666.6 576.5,665.5 578,664.2 579.5,662.7 581,660.5 582.5,657.6 584,654.3 585.5,650.7 587,646.8 588.5,642.2 590,637.2 591.5,631.7 593,626.2 594.5,620.7 596,615.3 597.5,609.8 599,604.2 600.5,598.6 602,592.7 603.5,586.8 605,580.8 606.5,575 608,569.4 609.5,564.1 611,559.3 612.5,554.5 614,549.4 615.5,544.3 617,539.7 618.5,535.9 620,533.4 621.5,532.6 623,533.2 624.5,534.6 626,536.7 627.5,539.2 629,542 630.5,546.3 632,552.4 633.5,559.8 635,568 636.5,576.7 638,585.7 639.5,596.7 641,609.3 642.5,621.8 644,632.9 645.5,641.4 647,649.2 648.5,656.3 650,662.2 651.5,666.4 653,668.8 654.5,670.7 656,672.4 657.5,673.7 659,674.6 660.5,675.1 662,674.9 663.5,673.8 665,672.2 666.5,670.1 668,667.8 669.5,665.5 671,663.5 672.5,662 674,661 675.5,659.9 677,658.9 678.5,658 680,657.2 681.5,656.6 683,656.1 684.5,656 686,656.1 687.5,656.3 689,656.6 690.5,657.1 692,657.7 693.5,658.3 695,659 696.5,660.3 698,662.5 699.5,665.3 701,668.6 702.5,672.3 704,676 705.5,679.7 707,683.2 708.5,686.3 710,689.5 711.5,692.7 713,696 714.5,699.3 716,702.6 717.5,705.7 719,708.7 720.5,711.3 722,713.7 723.5,715.8 725,717.7 726.5,719.4 728,721.1 729.5,722.7 731,724.2 732.5,725.7 734,727 735.5,728.3 737,729.6 738.5,730.8 740,732.1 741.5,733.2 743,734.4 744.5,735.5 746,736.6 747.5,737.6 749,738.6 750.5,739.6 752,740.5 753.5,741.5 755,742.4 756.5,743.2 758,744.1 759.5,745 761,745.9 762.5,746.9 764,747.8 765.5,748.7 767,749.5 768.5,750.2 770,750.8 771.5,751.2 773,751.4 774.5,751.6 776,751.8 777.5,751.9 779,752.1 780.5,752.2 782,752.3 783.5,752.5 785,752.6 786.5,752.7 788,752.9 789.5,753 791,753.1 792.5,753.2 794,753.3 795.5,753.4 797,753.5 798.5,753.6 800,753.7 801.5,753.8 803,753.9 804.5,754 806,754.1 807.5,754.2 809,754.2 810.5,754.3 812,754.4 813.5,754.4 815,754.5 816.5,754.6 818,754.6 819.5,754.7 821,754.7 822.5,754.8 824,754.8 825.5,754.9 827,754.9 828.5,754.9 830,755 831.5,755 833,755 834.5,755.1 836,755.1 837.5,755.1 839,755.1 840.5,755.1 842,755.2 843.5,755.2 845,755.2 846.5,755.2 848,755.2 849.5,755.2 851,755.2 851.3,755.2" fill="none" stroke="#000" stroke-width="2.2" stroke-linejoin="round"/><g fill="#fff" stroke="#000" stroke-width="1.5"><circle cx="479.0" cy="752.6" r="2.5"/><circle cx="482.9" cy="753.0" r="2.5"/><circle cx="484.8" cy="752.5" r="2.5"/><circle cx="488.7" cy="762.9" r="2.5"/><circle cx="491.6" cy="754.4" r="2.5"/><circle cx="495.2" cy="756.1" r="2.5"/><circle cx="497.8" cy="757.2" r="2.5"/><circle cx="501.0" cy="753.5" r="2.5"/><circle cx="505.0" cy="749.8" r="2.5"/><circle cx="507.7" cy="756.3" r="2.5"/><circle cx="510.9" cy="748.0" r="2.5"/><circle cx="514.0" cy="751.2" r="2.5"/><circle cx="516.9" cy="744.5" r="2.5"/><circle cx="520.2" cy="740.0" r="2.5"/><circle cx="524.2" cy="739.6" r="2.5"/><circle cx="526.9" cy="736.7" r="2.5"/><circle cx="530.0" cy="723.0" r="2.5"/><circle cx="533.7" cy="723.5" r="2.5"/><circle cx="536.3" cy="715.2" r="2.5"/><circle cx="540.2" cy="706.6" r="2.5"/><circle cx="543.2" cy="692.5" r="2.5"/><circle cx="546.2" cy="683.2" r="2.5"/><circle cx="549.7" cy="683.4" r="2.5"/><circle cx="553.0" cy="676.6" r="2.5"/><circle cx="556.1" cy="671.6" r="2.5"/><circle cx="558.9" cy="675.5" r="2.5"/><circle cx="562.3" cy="672.2" r="2.5"/><circle cx="564.9" cy="674.4" r="2.5"/><circle cx="568.8" cy="672.8" r="2.5"/><circle cx="572.1" cy="667.4" r="2.5"/><circle cx="575.1" cy="674.0" r="2.5"/><circle cx="577.9" cy="665.2" r="2.5"/><circle cx="581.2" cy="666.1" r="2.5"/><circle cx="584.7" cy="648.7" r="2.5"/><circle cx="587.6" cy="638.2" r="2.5"/><circle cx="590.3" cy="621.6" r="2.5"/><circle cx="594.0" cy="616.8" r="2.5"/><circle cx="597.4" cy="606.5" r="2.5"/><circle cx="600.7" cy="606.0" r="2.5"/><circle cx="603.4" cy="580.2" r="2.5"/><circle cx="607.3" cy="583.5" r="2.5"/><circle cx="609.9" cy="554.4" r="2.5"/><circle cx="613.3" cy="549.6" r="2.5"/><circle cx="616.8" cy="536.4" r="2.5"/><circle cx="619.7" cy="532.9" r="2.5"/><circle cx="622.5" cy="528.5" r="2.5"/><circle cx="626.3" cy="538.9" r="2.5"/><circle cx="629.2" cy="549.9" r="2.5"/><circle cx="632.9" cy="557.4" r="2.5"/><circle cx="636.0" cy="574.2" r="2.5"/><circle cx="639.2" cy="596.9" r="2.5"/><circle cx="642.2" cy="610.2" r="2.5"/><circle cx="645.3" cy="637.2" r="2.5"/><circle cx="648.2" cy="659.3" r="2.5"/><circle cx="651.3" cy="669.8" r="2.5"/><circle cx="654.8" cy="667.4" r="2.5"/><circle cx="657.9" cy="680.5" r="2.5"/><circle cx="661.8" cy="674.2" r="2.5"/><circle cx="664.9" cy="678.4" r="2.5"/><circle cx="667.5" cy="667.1" r="2.5"/><circle cx="671.3" cy="664.7" r="2.5"/><circle cx="674.1" cy="665.4" r="2.5"/><circle cx="677.6" cy="660.8" r="2.5"/><circle cx="681.3" cy="658.2" r="2.5"/><circle cx="684.6" cy="656.8" r="2.5"/><circle cx="686.9" cy="656.5" r="2.5"/><circle cx="690.5" cy="658.7" r="2.5"/><circle cx="693.5" cy="654.3" r="2.5"/><circle cx="696.3" cy="659.6" r="2.5"/><circle cx="700.0" cy="671.6" r="2.5"/><circle cx="702.3" cy="672.9" r="2.5"/><circle cx="706.1" cy="680.9" r="2.5"/><circle cx="709.5" cy="684.9" r="2.5"/><circle cx="712.2" cy="699.0" r="2.5"/><circle cx="716.0" cy="700.5" r="2.5"/><circle cx="719.0" cy="706.1" r="2.5"/><circle cx="721.8" cy="716.1" r="2.5"/><circle cx="725.2" cy="714.5" r="2.5"/><circle cx="728.4" cy="726.8" r="2.5"/><circle cx="731.9" cy="725.6" r="2.5"/><circle cx="735.0" cy="730.4" r="2.5"/><circle cx="738.4" cy="726.7" r="2.5"/><circle cx="741.3" cy="731.2" r="2.5"/><circle cx="744.7" cy="735.3" r="2.5"/><circle cx="747.2" cy="741.0" r="2.5"/><circle cx="751.1" cy="735.0" r="2.5"/><circle cx="754.5" cy="742.1" r="2.5"/><circle cx="757.5" cy="743.8" r="2.5"/><circle cx="760.6" cy="744.2" r="2.5"/><circle cx="763.3" cy="745.9" r="2.5"/><circle cx="767.0" cy="749.5" r="2.5"/><circle cx="770.4" cy="750.5" r="2.5"/><circle cx="772.7" cy="753.1" r="2.5"/><circle cx="776.3" cy="748.4" r="2.5"/><circle cx="779.7" cy="748.7" r="2.5"/><circle cx="783.1" cy="750.1" r="2.5"/><circle cx="786.8" cy="752.0" r="2.5"/><circle cx="789.2" cy="751.2" r="2.5"/><circle cx="791.9" cy="751.0" r="2.5"/><circle cx="795.5" cy="752.5" r="2.5"/><circle cx="798.3" cy="753.6" r="2.5"/><circle cx="802.6" cy="752.7" r="2.5"/><circle cx="805.4" cy="754.9" r="2.5"/><circle cx="808.3" cy="753.0" r="2.5"/><circle cx="812.1" cy="754.7" r="2.5"/><circle cx="814.6" cy="750.1" r="2.5"/><circle cx="818.9" cy="755.6" r="2.5"/><circle cx="820.9" cy="755.0" r="2.5"/><circle cx="824.8" cy="755.0" r="2.5"/><circle cx="827.2" cy="759.1" r="2.5"/><circle cx="831.2" cy="754.5" r="2.5"/><circle cx="834.4" cy="754.5" r="2.5"/><circle cx="837.3" cy="757.2" r="2.5"/><circle cx="840.0" cy="757.5" r="2.5"/><circle cx="843.9" cy="756.9" r="2.5"/><circle cx="847.3" cy="758.8" r="2.5"/><circle cx="850.6" cy="757.3" r="2.5"/></g><path d="M1052,271 1054,270.6 1056,270.1 1058,269.4 1060,268.6 1062,267.6 1064,266.3 1066,264.8 1068,263 1070,260.8 1072,258.2 1074,255.1 1076,251.6 1078,247.6 1080,243.1 1082,238.1 1084,232.5 1086,226.5 1088,220 1090,213.1 1092,206 1094,198.7 1096,191.2 1098,183.9 1100,176.7 1102,169.9 1104,163.6 1106,157.9 1108,153 1110,149.1 1112,146.1 1114,144.3 1116,143.6 1118,144.1 1120,145.7 1122,148.4 1124,152.2 1126,156.9 1128,162.4 1130,168.6 1132,175.3 1134,182.4 1136,189.7 1138,197.2 1140,204.5 1142,211.7 1144,218.7 1146,225.2 1148,231.3 1150,237 1152,242.1 1154,246.8 1156,250.9 1158,254.5 1160,257.6 1162,260.3 1164,262.6 1166,264.5 1168,266.1 1170,267.4 1172,268.4 1174,269.3 1176,270 1178,270.5 1180,270.9 L1180.0,271.2 L1052.0,271.2 Z" fill="url(#c1_g0)"/><path d="M920,272.2 1040,272 1042,271.9 1044,271.9 1046,271.7 1048,271.5 1050,271.3 1052,271 1054,270.6 1056,270.1 1058,269.4 1060,268.6 1062,267.6 1064,266.3 1066,264.8 1068,263 1070,260.8 1072,258.2 1074,255.1 1076,251.6 1078,247.6 1080,243.1 1082,238.1 1084,232.5 1086,226.5 1088,220 1090,213.1 1092,206 1094,198.7 1096,191.2 1098,183.9 1100,176.7 1102,169.9 1104,163.6 1106,157.9 1108,153 1110,149.1 1112,146.1 1114,144.3 1116,143.6 1118,144.1 1120,145.7 1122,148.4 1124,152.2 1126,156.9 1128,162.4 1130,168.6 1132,175.3 1134,182.4 1136,189.7 1138,197.2 1140,204.5 1142,211.7 1144,218.7 1146,225.2 1148,231.3 1150,237 1152,242.1 1154,246.8 1156,250.9 1158,254.5 1160,257.6 1162,260.3 1164,262.6 1166,264.5 1168,266.1 1170,267.4 1172,268.4 1174,269.3 1176,270 1178,270.5 1180,270.9 1182,271.3 1184,271.5 1186,271.7 1188,271.8 1190,271.9 1192,272 1300,272.2" fill="none" stroke="#1a1a8c" stroke-width="1.8" stroke-dasharray="14.5 9"/><path d="M1012,271 1014,270.8 1016,270.4 1018,270.1 1020,269.6 1022,269 1024,268.4 1026,267.6 1028,266.8 1030,265.8 1032,264.6 1034,263.3 1036,261.9 1038,260.3 1040,258.4 1042,256.4 1044,254.2 1046,251.8 1048,249.2 1050,246.5 1052,243.5 1054,240.4 1056,237.1 1058,233.8 1060,230.3 1062,226.7 1064,223.1 1066,219.6 1068,216.1 1070,212.6 1072,209.3 1074,206.2 1076,203.3 1078,200.7 1080,198.4 1082,196.4 1084,194.8 1086,193.6 1088,192.9 1090,192.5 1092,192.6 1094,193.1 1096,194.1 1098,195.4 1100,197.2 1102,199.3 1104,201.7 1106,204.5 1108,207.4 1110,210.6 1112,214 1114,217.5 1116,221 1118,224.6 1120,228.1 1122,231.7 1124,235.1 1126,238.5 1128,241.7 1130,244.7 1132,247.6 1134,250.3 1136,252.8 1138,255.1 1140,257.3 1142,259.2 1144,260.9 1146,262.5 1148,263.9 1150,265.1 1152,266.2 1154,267.1 1156,268 1158,268.7 1160,269.3 1162,269.8 1164,270.2 1166,270.6 1168,270.9 1170,271.1 L1170.0,271.2 L1012.0,271.2 Z" fill="url(#c1_g1)"/><path d="M920,272.2 996,272 998,272 1000,271.9 1002,271.8 1004,271.7 1006,271.6 1008,271.5 1010,271.3 1012,271 1014,270.8 1016,270.4 1018,270.1 1020,269.6 1022,269 1024,268.4 1026,267.6 1028,266.8 1030,265.8 1032,264.6 1034,263.3 1036,261.9 1038,260.3 1040,258.4 1042,256.4 1044,254.2 1046,251.8 1048,249.2 1050,246.5 1052,243.5 1054,240.4 1056,237.1 1058,233.8 1060,230.3 1062,226.7 1064,223.1 1066,219.6 1068,216.1 1070,212.6 1072,209.3 1074,206.2 1076,203.3 1078,200.7 1080,198.4 1082,196.4 1084,194.8 1086,193.6 1088,192.9 1090,192.5 1092,192.6 1094,193.1 1096,194.1 1098,195.4 1100,197.2 1102,199.3 1104,201.7 1106,204.5 1108,207.4 1110,210.6 1112,214 1114,217.5 1116,221 1118,224.6 1120,228.1 1122,231.7 1124,235.1 1126,238.5 1128,241.7 1130,244.7 1132,247.6 1134,250.3 1136,252.8 1138,255.1 1140,257.3 1142,259.2 1144,260.9 1146,262.5 1148,263.9 1150,265.1 1152,266.2 1154,267.1 1156,268 1158,268.7 1160,269.3 1162,269.8 1164,270.2 1166,270.6 1168,270.9 1170,271.1 1172,271.4 1174,271.5 1176,271.7 1178,271.8 1180,271.9 1182,271.9 1184,272 1186,272 1300,272.2" fill="none" stroke="#1e7a1e" stroke-width="1.8" stroke-dasharray="14.5 9"/><path d="M1114,270.9 1116,270.5 1118,270 1120,269.5 1122,268.7 1124,267.9 1126,266.9 1128,265.7 1130,264.3 1132,262.8 1134,261 1136,259 1138,256.8 1140,254.5 1142,251.9 1144,249.2 1146,246.4 1148,243.6 1150,240.7 1152,237.8 1154,235.1 1156,232.5 1158,230.1 1160,228 1162,226.2 1164,224.8 1166,223.9 1168,223.4 1170,223.3 1172,223.8 1174,224.6 1176,225.9 1178,227.6 1180,229.6 1182,232 1184,234.5 1186,237.2 1188,240.1 1190,243 1192,245.9 1194,248.7 1196,251.4 1198,254 1200,256.4 1202,258.6 1204,260.6 1206,262.4 1208,264 1210,265.5 1212,266.7 1214,267.7 1216,268.6 1218,269.3 1220,269.9 1222,270.4 1224,270.8 1226,271.1 L1226.0,271.2 L1114.0,271.2 Z" fill="url(#c1_g2)"/><path d="M920,272.2 1100,272 1102,272 1104,271.9 1106,271.8 1108,271.6 1110,271.4 1112,271.2 1114,270.9 1116,270.5 1118,270 1120,269.5 1122,268.7 1124,267.9 1126,266.9 1128,265.7 1130,264.3 1132,262.8 1134,261 1136,259 1138,256.8 1140,254.5 1142,251.9 1144,249.2 1146,246.4 1148,243.6 1150,240.7 1152,237.8 1154,235.1 1156,232.5 1158,230.1 1160,228 1162,226.2 1164,224.8 1166,223.9 1168,223.4 1170,223.3 1172,223.8 1174,224.6 1176,225.9 1178,227.6 1180,229.6 1182,232 1184,234.5 1186,237.2 1188,240.1 1190,243 1192,245.9 1194,248.7 1196,251.4 1198,254 1200,256.4 1202,258.6 1204,260.6 1206,262.4 1208,264 1210,265.5 1212,266.7 1214,267.7 1216,268.6 1218,269.3 1220,269.9 1222,270.4 1224,270.8 1226,271.1 1228,271.4 1230,271.6 1232,271.8 1234,271.9 1236,272 1238,272 1300,272.2" fill="none" stroke="#1e7a1e" stroke-width="1.8" stroke-dasharray="14.5 9"/><path d="M1006,271.1 1008,270.8 1010,270.4 1012,270 1014,269.4 1016,268.7 1018,267.9 1020,267 1022,265.9 1024,264.6 1026,263.2 1028,261.6 1030,259.8 1032,257.8 1034,255.7 1036,253.5 1038,251.1 1040,248.7 1042,246.2 1044,243.8 1046,241.3 1048,239 1050,236.8 1052,234.8 1054,233.1 1056,231.6 1058,230.4 1060,229.7 1062,229.3 1064,229.2 1066,229.6 1068,230.4 1070,231.5 1072,232.9 1074,234.6 1076,236.6 1078,238.8 1080,241.1 1082,243.5 1084,246 1086,248.5 1088,250.9 1090,253.3 1092,255.5 1094,257.6 1096,259.6 1098,261.4 1100,263 1102,264.5 1104,265.7 1106,266.9 1108,267.8 1110,268.6 1112,269.3 1114,269.9 1116,270.4 1118,270.8 1120,271.1 L1120.0,271.2 L1006.0,271.2 Z" fill="url(#c1_g3)"/><path d="M920,272.2 994,272 996,271.9 998,271.8 1000,271.7 1002,271.6 1004,271.4 1006,271.1 1008,270.8 1010,270.4 1012,270 1014,269.4 1016,268.7 1018,267.9 1020,267 1022,265.9 1024,264.6 1026,263.2 1028,261.6 1030,259.8 1032,257.8 1034,255.7 1036,253.5 1038,251.1 1040,248.7 1042,246.2 1044,243.8 1046,241.3 1048,239 1050,236.8 1052,234.8 1054,233.1 1056,231.6 1058,230.4 1060,229.7 1062,229.3 1064,229.2 1066,229.6 1068,230.4 1070,231.5 1072,232.9 1074,234.6 1076,236.6 1078,238.8 1080,241.1 1082,243.5 1084,246 1086,248.5 1088,250.9 1090,253.3 1092,255.5 1094,257.6 1096,259.6 1098,261.4 1100,263 1102,264.5 1104,265.7 1106,266.9 1108,267.8 1110,268.6 1112,269.3 1114,269.9 1116,270.4 1118,270.8 1120,271.1 1122,271.4 1124,271.6 1126,271.7 1128,271.8 1130,271.9 1132,272 1300,272.2" fill="none" stroke="#1a1a8c" stroke-width="1.8" stroke-dasharray="14.5 9"/><path d="M1156,271.1 1158,270.7 1160,270.3 1162,269.8 1164,269.1 1166,268.4 1168,267.5 1170,266.4 1172,265.2 1174,263.8 1176,262.3 1178,260.6 1180,258.8 1182,256.8 1184,254.8 1186,252.7 1188,250.6 1190,248.6 1192,246.6 1194,244.8 1196,243.2 1198,241.8 1200,240.7 1202,239.9 1204,239.5 1206,239.4 1208,239.7 1210,240.3 1212,241.3 1214,242.6 1216,244.1 1218,245.9 1220,247.8 1222,249.8 1224,251.9 1226,254 1228,256 1230,258 1232,259.9 1234,261.6 1236,263.2 1238,264.7 1240,266 1242,267.1 1244,268 1246,268.9 1248,269.5 1250,270.1 1252,270.6 1254,271 L1254.0,271.2 L1156.0,271.2 Z" fill="url(#c1_g4)"/><path d="M920,272.2 1144,272 1146,272 1148,271.9 1150,271.7 1152,271.6 1154,271.4 1156,271.1 1158,270.7 1160,270.3 1162,269.8 1164,269.1 1166,268.4 1168,267.5 1170,266.4 1172,265.2 1174,263.8 1176,262.3 1178,260.6 1180,258.8 1182,256.8 1184,254.8 1186,252.7 1188,250.6 1190,248.6 1192,246.6 1194,244.8 1196,243.2 1198,241.8 1200,240.7 1202,239.9 1204,239.5 1206,239.4 1208,239.7 1210,240.3 1212,241.3 1214,242.6 1216,244.1 1218,245.9 1220,247.8 1222,249.8 1224,251.9 1226,254 1228,256 1230,258 1232,259.9 1234,261.6 1236,263.2 1238,264.7 1240,266 1242,267.1 1244,268 1246,268.9 1248,269.5 1250,270.1 1252,270.6 1254,271 1256,271.3 1258,271.5 1260,271.7 1262,271.8 1264,271.9 1266,272 1300,272.2" fill="none" stroke="#1a1a8c" stroke-width="1.8" stroke-dasharray="14.5 9"/><path d="M992,271 994,270.6 996,270.1 998,269.4 1000,268.6 1002,267.6 1004,266.4 1006,265.1 1008,263.5 1010,261.8 1012,259.9 1014,258 1016,255.9 1018,253.9 1020,251.9 1022,250.1 1024,248.4 1026,247.1 1028,246.1 1030,245.4 1032,245.2 1034,245.4 1036,246 1038,247 1040,248.3 1042,249.9 1044,251.7 1046,253.7 1048,255.7 1050,257.8 1052,259.7 1054,261.6 1056,263.4 1058,264.9 1060,266.3 1062,267.5 1064,268.5 1066,269.3 1068,270 1070,270.6 1072,271 L1072.0,271.2 L992.0,271.2 Z" fill="url(#c1_g5)"/><path d="M920,272.2 982,272 984,271.9 986,271.8 988,271.6 990,271.4 992,271 994,270.6 996,270.1 998,269.4 1000,268.6 1002,267.6 1004,266.4 1006,265.1 1008,263.5 1010,261.8 1012,259.9 1014,258 1016,255.9 1018,253.9 1020,251.9 1022,250.1 1024,248.4 1026,247.1 1028,246.1 1030,245.4 1032,245.2 1034,245.4 1036,246 1038,247 1040,248.3 1042,249.9 1044,251.7 1046,253.7 1048,255.7 1050,257.8 1052,259.7 1054,261.6 1056,263.4 1058,264.9 1060,266.3 1062,267.5 1064,268.5 1066,269.3 1068,270 1070,270.6 1072,271 1074,271.3 1076,271.6 1078,271.8 1080,271.9 1082,272 1300,272.2" fill="none" stroke="#1e7a1e" stroke-width="1.8" stroke-dasharray="14.5 9"/><path d="M919.5,272.2 921,272.2 922.5,272.2 924,272.2 925.5,272.2 927,272.2 928.5,272.2 930,272.2 931.5,272.2 933,272.2 934.5,272.2 936,272.2 937.5,272.1 939,272.1 940.5,272.1 942,272.1 943.5,272.1 945,272.1 946.5,272.1 948,272.1 949.5,272 951,272 952.5,272 954,272 955.5,272 957,271.9 958.5,271.9 960,271.9 961.5,271.9 963,271.8 964.5,271.8 966,271.8 967.5,271.8 969,271.7 970.5,271.7 972,271.6 973.5,271.6 975,271.6 976.5,271.5 978,271.5 979.5,271.4 981,271.4 982.5,271.4 984,271.3 985.5,271.3 987,271.2 988.5,271.2 990,271.1 991.5,271 993,270.8 994.5,270.5 996,270.2 997.5,269.8 999,269.3 1000.5,268.6 1002,267.6 1003.5,266.4 1005,265 1006.5,263.5 1008,261.9 1009.5,259.9 1011,257.5 1012.5,255 1014,252.5 1015.5,250 1017,247.5 1018.5,244.9 1020,242.2 1021.5,239.5 1023,237 1024.5,234.8 1026,232.7 1027.5,230.7 1029,228.7 1030.5,226.8 1032,224.9 1033.5,223 1035,221.1 1036.5,219.3 1038,217.4 1039.5,215.4 1041,213.1 1042.5,210.6 1044,207.8 1045.5,204.8 1047,201.8 1048.5,198.7 1050,195.7 1051.5,192.8 1053,189.9 1054.5,187 1056,184 1057.5,180.8 1059,177.4 1060.5,173.7 1062,169.8 1063.5,165.9 1065,162.1 1066.5,158.5 1068,154.9 1069.5,151.5 1071,148.1 1072.5,144.8 1074,141.5 1075.5,138.3 1077,135.1 1078.5,132 1080,129 1081.5,126 1083,123.3 1084.5,120.7 1086,118.1 1087.5,115.6 1089,113.3 1090.5,111.4 1092,109.8 1093.5,108.4 1095,107.4 1096.5,107.1" fill="none" stroke="#000" stroke-width="2.2" stroke-linejoin="round"/><path d="M1122,109.4 1123.5,112 1125,114.8 1126.5,117.3 1128,119.8 1129.5,122.3 1131,125.1 1132.5,128.1 1134,131.5 1135.5,135.7 1137,140.8 1138.5,146.3 1140,151.8 1141.5,156.9 1143,161.3 1144.5,165.3 1146,169 1147.5,172.4 1149,175.3 1150.5,177.7 1152,179.8 1153.5,181.7 1155,183.6 1156.5,185.4 1158,187.2 1159.5,188.9 1161,190.6 1162.5,192.2 1164,193.8 1165.5,195.3 1167,196.8 1168.5,198.1 1170,199.4 1171.5,200.7 1173,201.9 1174.5,203 1176,204.1 1177.5,205.2 1179,206.2 1180.5,207.2 1182,208.2 1183.5,209.1 1185,210.1 1186.5,211.1 1188,212 1189.5,213 1191,214 1192.5,214.9 1194,215.8 1195.5,216.7 1197,217.7 1198.5,218.7 1200,219.8 1201.5,221 1203,222.4 1204.5,224 1206,225.7 1207.5,227.5 1209,229.4 1210.5,231.3 1212,233.3 1213.5,235.1 1215,237 1216.5,238.8 1218,240.8 1219.5,242.7 1221,244.6 1222.5,246.5 1224,248.4 1225.5,250.2 1227,251.9 1228.5,253.5 1230,255.2 1231.5,256.8 1233,258.4 1234.5,260 1236,261.5 1237.5,262.9 1239,264.2 1240.5,265.3 1242,266.3 1243.5,267.1 1245,267.9 1246.5,268.6 1248,269.4 1249.5,270.1 1251,270.7 1252.5,271.2 1254,271.6 1255.5,271.9 1257,272 1258.5,272 1260,272 1261.5,272 1263,272.1 1264.5,272.1 1266,272.1 1267.5,272.1 1269,272.1 1270.5,272.1 1272,272.1 1273.5,272.1 1275,272.1 1276.5,272.1 1278,272.2 1279.5,272.2 1281,272.2 1282.5,272.2 1284,272.2 1285.5,272.2 1287,272.2 1288.5,272.2 1290,272.2 1291.5,272.2 1293,272.2 1294.5,272.2 1296,272.2 1297.5,272.2 1299,272.2 1300.5,272.2" fill="none" stroke="#000" stroke-width="2.2" stroke-linejoin="round"/><path d="M1098,107.1 1099.5,107.1 1101,107.1 1102.5,107.1 1104,107.1 1105.5,107.1 1107,107.1 1108.5,107.1 1110,107.1 1111.5,107.1 1113,107.1 1114.5,107.1 1116,107.1 1117.5,107.1 1119,107.1 1120.5,107.6" fill="none" stroke="#000" stroke-width="1.2" stroke-dasharray="9 4"/><g fill="#fff" stroke="#000" stroke-width="1.5"><circle cx="925.9" cy="273.8" r="2.5"/><circle cx="929.1" cy="270.0" r="2.5"/><circle cx="932.5" cy="273.0" r="2.5"/><circle cx="936.0" cy="267.2" r="2.5"/><circle cx="939.0" cy="273.8" r="2.5"/><circle cx="942.0" cy="275.7" r="2.5"/><circle cx="944.9" cy="273.0" r="2.5"/><circle cx="948.3" cy="272.1" r="2.5"/><circle cx="951.3" cy="271.8" r="2.5"/><circle cx="955.0" cy="272.3" r="2.5"/><circle cx="958.1" cy="270.2" r="2.5"/><circle cx="961.7" cy="270.3" r="2.5"/><circle cx="964.4" cy="273.3" r="2.5"/><circle cx="967.6" cy="273.6" r="2.5"/><circle cx="970.9" cy="275.8" r="2.5"/><circle cx="974.2" cy="272.6" r="2.5"/><circle cx="977.0" cy="272.7" r="2.5"/><circle cx="980.7" cy="272.5" r="2.5"/><circle cx="983.3" cy="270.1" r="2.5"/><circle cx="986.7" cy="271.3" r="2.5"/><circle cx="989.6" cy="275.6" r="2.5"/><circle cx="993.2" cy="271.1" r="2.5"/><circle cx="996.3" cy="270.1" r="2.5"/><circle cx="1000.2" cy="266.6" r="2.5"/><circle cx="1002.7" cy="264.0" r="2.5"/><circle cx="1005.8" cy="268.7" r="2.5"/><circle cx="1009.0" cy="258.8" r="2.5"/><circle cx="1011.9" cy="254.0" r="2.5"/><circle cx="1015.7" cy="248.2" r="2.5"/><circle cx="1018.7" cy="247.2" r="2.5"/><circle cx="1022.2" cy="238.4" r="2.5"/><circle cx="1025.0" cy="228.9" r="2.5"/><circle cx="1028.9" cy="224.6" r="2.5"/><circle cx="1031.8" cy="224.9" r="2.5"/><circle cx="1034.6" cy="224.3" r="2.5"/><circle cx="1037.8" cy="221.6" r="2.5"/><circle cx="1040.9" cy="214.6" r="2.5"/><circle cx="1044.8" cy="203.5" r="2.5"/><circle cx="1048.2" cy="203.8" r="2.5"/><circle cx="1050.1" cy="199.3" r="2.5"/><circle cx="1054.6" cy="187.1" r="2.5"/><circle cx="1057.1" cy="182.9" r="2.5"/><circle cx="1059.8" cy="174.7" r="2.5"/><circle cx="1063.9" cy="163.5" r="2.5"/><circle cx="1067.1" cy="166.5" r="2.5"/><circle cx="1069.4" cy="143.4" r="2.5"/><circle cx="1073.0" cy="145.8" r="2.5"/><circle cx="1076.5" cy="133.0" r="2.5"/><circle cx="1079.3" cy="127.1" r="2.5"/><circle cx="1083.3" cy="120.4" r="2.5"/><circle cx="1085.8" cy="121.5" r="2.5"/><circle cx="1089.1" cy="109.9" r="2.5"/><circle cx="1121.6" cy="109.6" r="2.5"/><circle cx="1124.2" cy="112.4" r="2.5"/><circle cx="1127.9" cy="117.9" r="2.5"/><circle cx="1130.9" cy="128.1" r="2.5"/><circle cx="1134.3" cy="123.8" r="2.5"/><circle cx="1137.1" cy="140.2" r="2.5"/><circle cx="1140.4" cy="156.7" r="2.5"/><circle cx="1144.0" cy="161.2" r="2.5"/><circle cx="1146.5" cy="171.7" r="2.5"/><circle cx="1149.8" cy="182.9" r="2.5"/><circle cx="1153.3" cy="181.7" r="2.5"/><circle cx="1156.7" cy="183.3" r="2.5"/><circle cx="1159.5" cy="188.6" r="2.5"/><circle cx="1163.0" cy="196.7" r="2.5"/><circle cx="1166.3" cy="198.2" r="2.5"/><circle cx="1169.1" cy="200.0" r="2.5"/><circle cx="1172.3" cy="204.9" r="2.5"/><circle cx="1175.4" cy="203.8" r="2.5"/><circle cx="1178.9" cy="208.4" r="2.5"/><circle cx="1181.8" cy="207.7" r="2.5"/><circle cx="1185.0" cy="206.7" r="2.5"/><circle cx="1188.7" cy="213.7" r="2.5"/><circle cx="1191.2" cy="211.8" r="2.5"/><circle cx="1195.0" cy="214.8" r="2.5"/><circle cx="1197.7" cy="222.0" r="2.5"/><circle cx="1201.1" cy="219.8" r="2.5"/><circle cx="1204.6" cy="221.8" r="2.5"/><circle cx="1207.6" cy="228.3" r="2.5"/><circle cx="1211.0" cy="229.5" r="2.5"/><circle cx="1214.3" cy="237.0" r="2.5"/><circle cx="1217.8" cy="240.6" r="2.5"/><circle cx="1220.3" cy="242.3" r="2.5"/><circle cx="1223.3" cy="248.0" r="2.5"/><circle cx="1226.8" cy="254.5" r="2.5"/><circle cx="1230.0" cy="252.7" r="2.5"/><circle cx="1233.5" cy="257.4" r="2.5"/><circle cx="1236.5" cy="266.2" r="2.5"/><circle cx="1240.0" cy="262.6" r="2.5"/><circle cx="1242.8" cy="270.3" r="2.5"/><circle cx="1246.3" cy="269.9" r="2.5"/><circle cx="1249.5" cy="264.3" r="2.5"/><circle cx="1252.3" cy="267.6" r="2.5"/><circle cx="1255.4" cy="271.0" r="2.5"/><circle cx="1258.9" cy="274.7" r="2.5"/><circle cx="1262.2" cy="272.7" r="2.5"/><circle cx="1265.1" cy="275.0" r="2.5"/><circle cx="1268.5" cy="267.9" r="2.5"/><circle cx="1271.6" cy="273.2" r="2.5"/><circle cx="1274.5" cy="272.6" r="2.5"/><circle cx="1278.4" cy="271.5" r="2.5"/><circle cx="1281.2" cy="272.0" r="2.5"/><circle cx="1284.1" cy="271.0" r="2.5"/><circle cx="1287.3" cy="271.4" r="2.5"/><circle cx="1107.5" cy="101.5" r="2.5"/><circle cx="1113.0" cy="101.0" r="2.5"/><circle cx="1111.0" cy="105.5" r="2.5"/><circle cx="1105.0" cy="104.0" r="2.5"/></g><path d="M1041,514.4 1043,514.1 1045,513.7 1047,513.1 1049,512.4 1051,511.6 1053,510.6 1055,509.3 1057,507.8 1059,506 1061,503.9 1063,501.4 1065,498.5 1067,495.2 1069,491.3 1071,487 1073,482.2 1075,476.9 1077,471 1079,464.7 1081,457.9 1083,450.7 1085,443.2 1087,435.4 1089,427.5 1091,419.6 1093,411.7 1095,404.1 1097,396.8 1099,390 1101,383.9 1103,378.5 1105,374 1107,370.5 1109,368.1 1111,366.7 1113,366.6 1115,367.6 1117,369.7 1119,372.9 1121,377.1 1123,382.2 1125,388.1 1127,394.7 1129,401.8 1131,409.4 1133,417.2 1135,425.1 1137,433.1 1139,440.9 1141,448.5 1143,455.8 1145,462.7 1147,469.2 1149,475.2 1151,480.7 1153,485.6 1155,490.1 1157,494.1 1159,497.5 1161,500.6 1163,503.2 1165,505.4 1167,507.3 1169,508.9 1171,510.2 1173,511.3 1175,512.2 1177,512.9 1179,513.5 1181,514 1183,514.3 L1183.0,514.5 L1041.0,514.5 Z" fill="url(#c2_g0)"/><path d="M935,515.5 1029,515.3 1031,515.3 1033,515.2 1035,515 1037,514.9 1039,514.7 1041,514.4 1043,514.1 1045,513.7 1047,513.1 1049,512.4 1051,511.6 1053,510.6 1055,509.3 1057,507.8 1059,506 1061,503.9 1063,501.4 1065,498.5 1067,495.2 1069,491.3 1071,487 1073,482.2 1075,476.9 1077,471 1079,464.7 1081,457.9 1083,450.7 1085,443.2 1087,435.4 1089,427.5 1091,419.6 1093,411.7 1095,404.1 1097,396.8 1099,390 1101,383.9 1103,378.5 1105,374 1107,370.5 1109,368.1 1111,366.7 1113,366.6 1115,367.6 1117,369.7 1119,372.9 1121,377.1 1123,382.2 1125,388.1 1127,394.7 1129,401.8 1131,409.4 1133,417.2 1135,425.1 1137,433.1 1139,440.9 1141,448.5 1143,455.8 1145,462.7 1147,469.2 1149,475.2 1151,480.7 1153,485.6 1155,490.1 1157,494.1 1159,497.5 1161,500.6 1163,503.2 1165,505.4 1167,507.3 1169,508.9 1171,510.2 1173,511.3 1175,512.2 1177,512.9 1179,513.5 1181,514 1183,514.3 1185,514.6 1187,514.8 1189,515 1191,515.1 1193,515.2 1195,515.3 1311,515.5" fill="none" stroke="#1a1a8c" stroke-width="1.8" stroke-dasharray="14.5 9"/><path d="M1005,514.2 1007,513.8 1009,513.4 1011,512.8 1013,512.1 1015,511.2 1017,510.2 1019,509 1021,507.6 1023,506.1 1025,504.2 1027,502.2 1029,499.9 1031,497.5 1033,494.8 1035,491.9 1037,488.8 1039,485.7 1041,482.4 1043,479.2 1045,476 1047,472.9 1049,469.9 1051,467.2 1053,464.8 1055,462.8 1057,461.1 1059,460 1061,459.3 1063,459.1 1065,459.4 1067,460.3 1069,461.6 1071,463.3 1073,465.5 1075,468 1077,470.8 1079,473.8 1081,476.9 1083,480.2 1085,483.4 1087,486.6 1089,489.8 1091,492.8 1093,495.6 1095,498.2 1097,500.6 1099,502.8 1101,504.8 1103,506.6 1105,508.1 1107,509.4 1109,510.5 1111,511.5 1113,512.3 1115,513 1117,513.5 1119,513.9 1121,514.3 L1121.0,514.5 L1005.0,514.5 Z" fill="url(#c2_g1)"/><path d="M935,515.5 991,515.3 993,515.3 995,515.2 997,515.1 999,514.9 1001,514.7 1003,514.5 1005,514.2 1007,513.8 1009,513.4 1011,512.8 1013,512.1 1015,511.2 1017,510.2 1019,509 1021,507.6 1023,506.1 1025,504.2 1027,502.2 1029,499.9 1031,497.5 1033,494.8 1035,491.9 1037,488.8 1039,485.7 1041,482.4 1043,479.2 1045,476 1047,472.9 1049,469.9 1051,467.2 1053,464.8 1055,462.8 1057,461.1 1059,460 1061,459.3 1063,459.1 1065,459.4 1067,460.3 1069,461.6 1071,463.3 1073,465.5 1075,468 1077,470.8 1079,473.8 1081,476.9 1083,480.2 1085,483.4 1087,486.6 1089,489.8 1091,492.8 1093,495.6 1095,498.2 1097,500.6 1099,502.8 1101,504.8 1103,506.6 1105,508.1 1107,509.4 1109,510.5 1111,511.5 1113,512.3 1115,513 1117,513.5 1119,513.9 1121,514.3 1123,514.6 1125,514.8 1127,515 1129,515.1 1131,515.2 1133,515.3 1135,515.3 1311,515.5" fill="none" stroke="#1a1a8c" stroke-width="1.8" stroke-dasharray="14.5 9"/><path d="M1141,514.4 1143,514.2 1145,513.9 1147,513.6 1149,513.2 1151,512.7 1153,512.2 1155,511.5 1157,510.8 1159,510 1161,509.1 1163,508.1 1165,507 1167,505.8 1169,504.5 1171,503 1173,501.5 1175,499.9 1177,498.2 1179,496.4 1181,494.5 1183,492.7 1185,490.8 1187,488.9 1189,487.1 1191,485.3 1193,483.6 1195,482 1197,480.5 1199,479.2 1201,478.1 1203,477.2 1205,476.5 1207,476 1209,475.7 1211,475.7 1213,476 1215,476.5 1217,477.2 1219,478.1 1221,479.2 1223,480.5 1225,482 1227,483.6 1229,485.3 1231,487.1 1233,488.9 1235,490.8 1237,492.7 1239,494.5 1241,496.4 1243,498.2 1245,499.9 1247,501.5 1249,503 1251,504.5 1253,505.8 1255,507 1257,508.1 1259,509.1 1261,510 1263,510.8 1265,511.5 1267,512.2 1269,512.7 1271,513.2 1273,513.6 1275,513.9 1277,514.2 1279,514.4 L1279.0,514.5 L1141.0,514.5 Z" fill="url(#c2_g2)"/><path d="M935,515.5 1125,515.3 1127,515.3 1129,515.2 1131,515.2 1133,515.1 1135,515 1137,514.8 1139,514.6 1141,514.4 1143,514.2 1145,513.9 1147,513.6 1149,513.2 1151,512.7 1153,512.2 1155,511.5 1157,510.8 1159,510 1161,509.1 1163,508.1 1165,507 1167,505.8 1169,504.5 1171,503 1173,501.5 1175,499.9 1177,498.2 1179,496.4 1181,494.5 1183,492.7 1185,490.8 1187,488.9 1189,487.1 1191,485.3 1193,483.6 1195,482 1197,480.5 1199,479.2 1201,478.1 1203,477.2 1205,476.5 1207,476 1209,475.7 1211,475.7 1213,476 1215,476.5 1217,477.2 1219,478.1 1221,479.2 1223,480.5 1225,482 1227,483.6 1229,485.3 1231,487.1 1233,488.9 1235,490.8 1237,492.7 1239,494.5 1241,496.4 1243,498.2 1245,499.9 1247,501.5 1249,503 1251,504.5 1253,505.8 1255,507 1257,508.1 1259,509.1 1261,510 1263,510.8 1265,511.5 1267,512.2 1269,512.7 1271,513.2 1273,513.6 1275,513.9 1277,514.2 1279,514.4 1281,514.6 1283,514.8 1285,515 1287,515.1 1289,515.2 1291,515.2 1293,515.3 1295,515.3 1311,515.5" fill="none" stroke="#1a1a8c" stroke-width="1.8" stroke-dasharray="14.5 9"/><path d="M1017,514.5 1019,514.2 1021,513.8 1023,513.4 1025,512.9 1027,512.3 1029,511.6 1031,510.7 1033,509.8 1035,508.7 1037,507.4 1039,505.9 1041,504.3 1043,502.6 1045,500.6 1047,498.5 1049,496.3 1051,493.9 1053,491.5 1055,489 1057,486.4 1059,483.8 1061,481.3 1063,478.8 1065,476.5 1067,474.4 1069,472.5 1071,470.9 1073,469.5 1075,468.5 1077,467.8 1079,467.5 1081,467.6 1083,468 1085,468.9 1087,470 1089,471.5 1091,473.2 1093,475.2 1095,477.4 1097,479.8 1099,482.3 1101,484.8 1103,487.4 1105,490 1107,492.5 1109,494.9 1111,497.2 1113,499.4 1115,501.4 1117,503.3 1119,505 1121,506.5 1123,507.9 1125,509.1 1127,510.2 1129,511.1 1131,511.9 1133,512.6 1135,513.1 1137,513.6 1139,514 1141,514.3 L1141.0,514.5 L1017.0,514.5 Z" fill="url(#c2_g3)"/><path d="M935,515.5 1003,515.3 1005,515.3 1007,515.2 1009,515.1 1011,515 1013,514.9 1015,514.7 1017,514.5 1019,514.2 1021,513.8 1023,513.4 1025,512.9 1027,512.3 1029,511.6 1031,510.7 1033,509.8 1035,508.7 1037,507.4 1039,505.9 1041,504.3 1043,502.6 1045,500.6 1047,498.5 1049,496.3 1051,493.9 1053,491.5 1055,489 1057,486.4 1059,483.8 1061,481.3 1063,478.8 1065,476.5 1067,474.4 1069,472.5 1071,470.9 1073,469.5 1075,468.5 1077,467.8 1079,467.5 1081,467.6 1083,468 1085,468.9 1087,470 1089,471.5 1091,473.2 1093,475.2 1095,477.4 1097,479.8 1099,482.3 1101,484.8 1103,487.4 1105,490 1107,492.5 1109,494.9 1111,497.2 1113,499.4 1115,501.4 1117,503.3 1119,505 1121,506.5 1123,507.9 1125,509.1 1127,510.2 1129,511.1 1131,511.9 1133,512.6 1135,513.1 1137,513.6 1139,514 1141,514.3 1143,514.6 1145,514.8 1147,514.9 1149,515.1 1151,515.2 1153,515.3 1155,515.3 1311,515.5" fill="none" stroke="#2a0e10" stroke-width="1.8" stroke-dasharray="14.5 9"/><path d="M1065,514.5 1067,514.3 1069,514 1071,513.8 1073,513.5 1075,513.1 1077,512.7 1079,512.3 1081,511.8 1083,511.2 1085,510.6 1087,509.9 1089,509.1 1091,508.3 1093,507.4 1095,506.4 1097,505.4 1099,504.3 1101,503.1 1103,501.9 1105,500.6 1107,499.2 1109,497.8 1111,496.4 1113,494.9 1115,493.5 1117,492 1119,490.6 1121,489.1 1123,487.8 1125,486.4 1127,485.2 1129,484 1131,483 1133,482 1135,481.2 1137,480.5 1139,480 1141,479.6 1143,479.4 1145,479.3 1147,479.4 1149,479.6 1151,480 1153,480.6 1155,481.3 1157,482.1 1159,483.1 1161,484.2 1163,485.3 1165,486.6 1167,487.9 1169,489.3 1171,490.7 1173,492.2 1175,493.6 1177,495.1 1179,496.5 1181,498 1183,499.3 1185,500.7 1187,502 1189,503.2 1191,504.4 1193,505.5 1195,506.5 1197,507.5 1199,508.4 1201,509.2 1203,510 1205,510.6 1207,511.3 1209,511.8 1211,512.3 1213,512.7 1215,513.1 1217,513.5 1219,513.8 1221,514 1223,514.3 1225,514.5 L1225.0,514.5 L1065.0,514.5 Z" fill="url(#c2_g4)"/><path d="M935,515.5 1047,515.3 1049,515.3 1051,515.2 1053,515.2 1055,515.1 1057,515 1059,514.9 1061,514.8 1063,514.6 1065,514.5 1067,514.3 1069,514 1071,513.8 1073,513.5 1075,513.1 1077,512.7 1079,512.3 1081,511.8 1083,511.2 1085,510.6 1087,509.9 1089,509.1 1091,508.3 1093,507.4 1095,506.4 1097,505.4 1099,504.3 1101,503.1 1103,501.9 1105,500.6 1107,499.2 1109,497.8 1111,496.4 1113,494.9 1115,493.5 1117,492 1119,490.6 1121,489.1 1123,487.8 1125,486.4 1127,485.2 1129,484 1131,483 1133,482 1135,481.2 1137,480.5 1139,480 1141,479.6 1143,479.4 1145,479.3 1147,479.4 1149,479.6 1151,480 1153,480.6 1155,481.3 1157,482.1 1159,483.1 1161,484.2 1163,485.3 1165,486.6 1167,487.9 1169,489.3 1171,490.7 1173,492.2 1175,493.6 1177,495.1 1179,496.5 1181,498 1183,499.3 1185,500.7 1187,502 1189,503.2 1191,504.4 1193,505.5 1195,506.5 1197,507.5 1199,508.4 1201,509.2 1203,510 1205,510.6 1207,511.3 1209,511.8 1211,512.3 1213,512.7 1215,513.1 1217,513.5 1219,513.8 1221,514 1223,514.3 1225,514.5 1227,514.6 1229,514.8 1231,514.9 1233,515 1235,515.1 1237,515.2 1239,515.2 1241,515.3 1243,515.3 1311,515.5" fill="none" stroke="#2a0e10" stroke-width="1.8" stroke-dasharray="14.5 9"/><path d="M973,514.4 975,514.1 977,513.8 979,513.4 981,513 983,512.4 985,511.8 987,511.2 989,510.4 991,509.6 993,508.6 995,507.6 997,506.6 999,505.5 1001,504.3 1003,503.2 1005,502 1007,500.9 1009,499.8 1011,498.8 1013,497.9 1015,497.1 1017,496.5 1019,496 1021,495.7 1023,495.5 1025,495.5 1027,495.7 1029,496.1 1031,496.7 1033,497.4 1035,498.2 1037,499.1 1039,500.2 1041,501.3 1043,502.4 1045,503.5 1047,504.7 1049,505.8 1051,506.9 1053,507.9 1055,508.9 1057,509.8 1059,510.6 1061,511.4 1063,512 1065,512.6 1067,513.1 1069,513.5 1071,513.9 1073,514.2 1075,514.5 L1075.0,514.5 L973.0,514.5 Z" fill="url(#c2_g5)"/><path d="M935,515.5 959,515.3 961,515.3 963,515.2 965,515.1 967,515 969,514.8 971,514.6 973,514.4 975,514.1 977,513.8 979,513.4 981,513 983,512.4 985,511.8 987,511.2 989,510.4 991,509.6 993,508.6 995,507.6 997,506.6 999,505.5 1001,504.3 1003,503.2 1005,502 1007,500.9 1009,499.8 1011,498.8 1013,497.9 1015,497.1 1017,496.5 1019,496 1021,495.7 1023,495.5 1025,495.5 1027,495.7 1029,496.1 1031,496.7 1033,497.4 1035,498.2 1037,499.1 1039,500.2 1041,501.3 1043,502.4 1045,503.5 1047,504.7 1049,505.8 1051,506.9 1053,507.9 1055,508.9 1057,509.8 1059,510.6 1061,511.4 1063,512 1065,512.6 1067,513.1 1069,513.5 1071,513.9 1073,514.2 1075,514.5 1077,514.7 1079,514.9 1081,515 1083,515.1 1085,515.2 1087,515.3 1089,515.3 1311,515.5" fill="none" stroke="#2a0e10" stroke-width="1.8" stroke-dasharray="14.5 9"/><path d="M1159,514.3 1161,514 1163,513.7 1165,513.3 1167,512.9 1169,512.4 1171,511.9 1173,511.2 1175,510.6 1177,509.8 1179,509.1 1181,508.2 1183,507.4 1185,506.5 1187,505.6 1189,504.8 1191,504 1193,503.2 1195,502.5 1197,501.8 1199,501.3 1201,500.9 1203,500.6 1205,500.4 1207,500.4 1209,500.5 1211,500.8 1213,501.1 1215,501.6 1217,502.2 1219,502.9 1221,503.6 1223,504.5 1225,505.3 1227,506.2 1229,507 1231,507.9 1233,508.7 1235,509.5 1237,510.3 1239,511 1241,511.6 1243,512.2 1245,512.7 1247,513.2 1249,513.6 1251,513.9 1253,514.2 1255,514.5 L1255.0,514.5 L1159.0,514.5 Z" fill="url(#c2_g6)"/><path d="M935,515.5 1143,515.3 1145,515.3 1147,515.2 1149,515.1 1151,515 1153,514.9 1155,514.7 1157,514.6 1159,514.3 1161,514 1163,513.7 1165,513.3 1167,512.9 1169,512.4 1171,511.9 1173,511.2 1175,510.6 1177,509.8 1179,509.1 1181,508.2 1183,507.4 1185,506.5 1187,505.6 1189,504.8 1191,504 1193,503.2 1195,502.5 1197,501.8 1199,501.3 1201,500.9 1203,500.6 1205,500.4 1207,500.4 1209,500.5 1211,500.8 1213,501.1 1215,501.6 1217,502.2 1219,502.9 1221,503.6 1223,504.5 1225,505.3 1227,506.2 1229,507 1231,507.9 1233,508.7 1235,509.5 1237,510.3 1239,511 1241,511.6 1243,512.2 1245,512.7 1247,513.2 1249,513.6 1251,513.9 1253,514.2 1255,514.5 1257,514.7 1259,514.8 1261,515 1263,515.1 1265,515.2 1267,515.3 1269,515.3 1311,515.5" fill="none" stroke="#2a0e10" stroke-width="1.8" stroke-dasharray="14.5 9"/><path d="M1021,514.3 1023,514 1025,513.7 1027,513.3 1029,512.8 1031,512.2 1033,511.6 1035,510.8 1037,509.9 1039,509 1041,507.9 1043,506.6 1045,505.3 1047,503.9 1049,502.3 1051,500.6 1053,498.8 1055,497 1057,495.1 1059,493.1 1061,491.2 1063,489.2 1065,487.3 1067,485.5 1069,483.8 1071,482.2 1073,480.8 1075,479.5 1077,478.5 1079,477.8 1081,477.3 1083,477 1085,477 1087,477.3 1089,477.9 1091,478.7 1093,479.8 1095,481 1097,482.5 1099,484.1 1101,485.8 1103,487.7 1105,489.6 1107,491.6 1109,493.5 1111,495.5 1113,497.4 1115,499.2 1117,500.9 1119,502.6 1121,504.2 1123,505.6 1125,506.9 1127,508.1 1129,509.2 1131,510.1 1133,511 1135,511.7 1137,512.3 1139,512.9 1141,513.4 1143,513.8 1145,514.1 1147,514.4 L1147.0,514.5 L1021.0,514.5 Z" fill="url(#c2_g7)"/><path d="M935,515.5 1005,515.3 1007,515.3 1009,515.2 1011,515.1 1013,515 1015,514.9 1017,514.8 1019,514.6 1021,514.3 1023,514 1025,513.7 1027,513.3 1029,512.8 1031,512.2 1033,511.6 1035,510.8 1037,509.9 1039,509 1041,507.9 1043,506.6 1045,505.3 1047,503.9 1049,502.3 1051,500.6 1053,498.8 1055,497 1057,495.1 1059,493.1 1061,491.2 1063,489.2 1065,487.3 1067,485.5 1069,483.8 1071,482.2 1073,480.8 1075,479.5 1077,478.5 1079,477.8 1081,477.3 1083,477 1085,477 1087,477.3 1089,477.9 1091,478.7 1093,479.8 1095,481 1097,482.5 1099,484.1 1101,485.8 1103,487.7 1105,489.6 1107,491.6 1109,493.5 1111,495.5 1113,497.4 1115,499.2 1117,500.9 1119,502.6 1121,504.2 1123,505.6 1125,506.9 1127,508.1 1129,509.2 1131,510.1 1133,511 1135,511.7 1137,512.3 1139,512.9 1141,513.4 1143,513.8 1145,514.1 1147,514.4 1149,514.6 1151,514.8 1153,514.9 1155,515.1 1157,515.2 1159,515.2 1161,515.3 1163,515.3 1311,515.5" fill="none" stroke="#1e7a1e" stroke-width="1.8" stroke-dasharray="14.5 9"/><path d="M1109,514.5 1111,514.3 1113,514 1115,513.7 1117,513.4 1119,513 1121,512.6 1123,512.1 1125,511.5 1127,511 1129,510.3 1131,509.7 1133,508.9 1135,508.2 1137,507.4 1139,506.6 1141,505.8 1143,505 1145,504.1 1147,503.4 1149,502.6 1151,501.9 1153,501.2 1155,500.7 1157,500.2 1159,499.8 1161,499.5 1163,499.3 1165,499.2 1167,499.2 1169,499.4 1171,499.6 1173,500 1175,500.5 1177,501 1179,501.6 1181,502.3 1183,503 1185,503.8 1187,504.6 1189,505.4 1191,506.3 1193,507.1 1195,507.9 1197,508.6 1199,509.4 1201,510.1 1203,510.7 1205,511.3 1207,511.9 1209,512.4 1211,512.8 1213,513.2 1215,513.6 1217,513.9 1219,514.2 1221,514.4 L1221.0,514.5 L1109.0,514.5 Z" fill="url(#c2_g8)"/><path d="M935,515.5 1093,515.3 1095,515.3 1097,515.2 1099,515.1 1101,515.1 1103,514.9 1105,514.8 1107,514.7 1109,514.5 1111,514.3 1113,514 1115,513.7 1117,513.4 1119,513 1121,512.6 1123,512.1 1125,511.5 1127,511 1129,510.3 1131,509.7 1133,508.9 1135,508.2 1137,507.4 1139,506.6 1141,505.8 1143,505 1145,504.1 1147,503.4 1149,502.6 1151,501.9 1153,501.2 1155,500.7 1157,500.2 1159,499.8 1161,499.5 1163,499.3 1165,499.2 1167,499.2 1169,499.4 1171,499.6 1173,500 1175,500.5 1177,501 1179,501.6 1181,502.3 1183,503 1185,503.8 1187,504.6 1189,505.4 1191,506.3 1193,507.1 1195,507.9 1197,508.6 1199,509.4 1201,510.1 1203,510.7 1205,511.3 1207,511.9 1209,512.4 1211,512.8 1213,513.2 1215,513.6 1217,513.9 1219,514.2 1221,514.4 1223,514.6 1225,514.8 1227,514.9 1229,515 1231,515.1 1233,515.2 1235,515.3 1237,515.3 1311,515.5" fill="none" stroke="#1e7a1e" stroke-width="1.8" stroke-dasharray="14.5 9"/><path d="M989,514.2 991,513.7 993,513.1 995,512.4 997,511.5 999,510.5 1001,509.3 1003,508.1 1005,506.7 1007,505.3 1009,503.9 1011,502.6 1013,501.3 1015,500.3 1017,499.4 1019,498.9 1021,498.6 1023,498.7 1025,499.1 1027,499.7 1029,500.7 1031,501.8 1033,503.1 1035,504.5 1037,505.9 1039,507.3 1041,508.6 1043,509.8 1045,510.9 1047,511.9 1049,512.7 1051,513.3 1053,513.9 1055,514.3 L1055.0,514.5 L989.0,514.5 Z" fill="url(#c2_g9)"/><path d="M935,515.5 979,515.3 981,515.2 983,515 985,514.8 987,514.5 989,514.2 991,513.7 993,513.1 995,512.4 997,511.5 999,510.5 1001,509.3 1003,508.1 1005,506.7 1007,505.3 1009,503.9 1011,502.6 1013,501.3 1015,500.3 1017,499.4 1019,498.9 1021,498.6 1023,498.7 1025,499.1 1027,499.7 1029,500.7 1031,501.8 1033,503.1 1035,504.5 1037,505.9 1039,507.3 1041,508.6 1043,509.8 1045,510.9 1047,511.9 1049,512.7 1051,513.3 1053,513.9 1055,514.3 1057,514.6 1059,514.9 1061,515.1 1063,515.2 1065,515.3 1311,515.5" fill="none" stroke="#1e7a1e" stroke-width="1.8" stroke-dasharray="14.5 9"/><path d="M934.6,515.5 936.1,515.5 937.6,515.5 939.1,515.5 940.6,515.5 942.1,515.5 943.6,515.4 945.1,515.4 946.6,515.4 948.1,515.4 949.6,515.3 951.1,515.3 952.6,515.2 954.1,515.2 955.6,515.1 957.1,515.1 958.6,515 960.1,515 961.6,514.9 963.1,514.8 964.6,514.7 966.1,514.6 967.6,514.6 969.1,514.5 970.6,514.4 972.1,514.2 973.6,514.1 975.1,514 976.6,513.7 978.1,513.1 979.6,512.1 981.1,510.9 982.6,509.4 984.1,507.8 985.6,506.2 987.1,504.4 988.6,502.7 990.1,501 991.6,499.4 993.1,497.7 994.6,495.9 996.1,494 997.6,492 999.1,489.9 1000.6,487.7 1002.1,485.4 1003.6,482.9 1005.1,480.3 1006.6,477.5 1008.1,474.3 1009.6,470.8 1011.1,467.1 1012.6,463.3 1014.1,459.4 1015.6,455.5 1017.1,451.8 1018.6,447.9 1020.1,443.9 1021.6,440 1023.1,436.4 1024.6,433.2 1026.1,430.4 1027.6,427.8 1029.1,425.3 1030.6,422.9 1032.1,420.5 1033.6,418.2 1035.1,416 1036.6,413.8 1038.1,411.5 1039.6,408.8 1041.1,405.8 1042.6,402.3 1044.1,398.2 1045.6,393.7 1047.1,388.9 1048.6,383.5 1050.1,377.8 1051.6,372.1 1053.1,366.6 1054.6,361.1 1056.1,355.6 1057.6,350 1059.1,344.3 1060.6,338.6 1062.1,333.3 1063.6,328.6 1065.1,324.1 1066.6,320.1 1068.1,317 1069.6,314.6 1071.1,312.5 1072.6,310.6 1074.1,309 1075.6,307.6 1077.1,306.2 1078.6,305 1080.1,304.5 1081.6,304.7 1083.1,305.2 1084.6,305.9 1086.1,306.8 1087.6,307.6 1089.1,308.4 1090.6,309 1092.1,309.5 1093.6,310 1095.1,310.5 1096.6,310.9 1098.1,311.4 1099.6,311.9 1101.1,312.4 1102.6,312.9 1104.1,313.5 1105.6,314.1 1107.1,314.7 1108.6,315.3 1110.1,316 1111.6,316.7 1113.1,317.6 1114.6,318.6 1116.1,319.7 1117.6,321 1119.1,322.2 1120.6,323.5 1122.1,324.8 1123.6,326.2 1125.1,327.8 1126.6,329.6 1128.1,331.8 1129.6,334.4 1131.1,337.4 1132.6,340.8 1134.1,344.5 1135.6,349.1 1137.1,354.5 1138.6,360.1 1140.1,365 1141.6,369.2 1143.1,373.3 1144.6,377.2 1146.1,381 1147.6,384.5 1149.1,387.8 1150.6,390.9 1152.1,393.8 1153.6,396.4 1155.1,398.9 1156.6,401.3 1158.1,403.5 1159.6,405.6 1161.1,407.6 1162.6,409.5 1164.1,411.3 1165.6,413 1167.1,414.6 1168.6,416.1 1170.1,417.6 1171.6,418.9 1173.1,420.1 1174.6,421.2 1176.1,422.3 1177.6,423.4 1179.1,424.4 1180.6,425.4 1182.1,426.3 1183.6,427.2 1185.1,427.9 1186.6,428.5 1188.1,429 1189.6,429.3 1191.1,429.6 1192.6,429.8 1194.1,429.9 1195.6,430.1 1197.1,430.2 1198.6,430.4 1200.1,430.6 1201.6,430.9 1203.1,431.4 1204.6,432.1 1206.1,433 1207.6,434.1 1209.1,435.4 1210.6,436.8 1212.1,438.3 1213.6,439.9 1215.1,442.1 1216.6,444.7 1218.1,447.6 1219.6,450.7 1221.1,453.7 1222.6,456.6 1224.1,459.3 1225.6,461.8 1227.1,464.3 1228.6,466.7 1230.1,469.2 1231.6,471.6 1233.1,473.9 1234.6,476.2 1236.1,478.4 1237.6,480.6 1239.1,482.7 1240.6,484.8 1242.1,486.9 1243.6,488.9 1245.1,490.9 1246.6,492.8 1248.1,494.6 1249.6,496.3 1251.1,498 1252.6,499.5 1254.1,501 1255.6,502.5 1257.1,504 1258.6,505.4 1260.1,506.7 1261.6,507.9 1263.1,508.9 1264.6,509.6 1266.1,510.2 1267.6,510.7 1269.1,511.1 1270.6,511.6 1272.1,512 1273.6,512.4 1275.1,512.8 1276.6,513.2 1278.1,513.5 1279.6,513.8 1281.1,514.1 1282.6,514.3 1284.1,514.5 1285.6,514.7 1287.1,514.8 1288.6,514.9 1290.1,515 1291.6,515.1 1293.1,515.1 1294.6,515.2 1296.1,515.2 1297.6,515.3 1299.1,515.3 1300.6,515.3 1302.1,515.4 1303.6,515.4 1305.1,515.4 1306.6,515.5 1308.1,515.5 1309.6,515.5 1311.1,515.5 1312.6,515.5" fill="none" stroke="#000" stroke-width="2.2" stroke-linejoin="round"/><g fill="#fff" stroke="#000" stroke-width="1.5"><circle cx="934.3" cy="517.6" r="2.5"/><circle cx="937.7" cy="517.3" r="2.5"/><circle cx="940.6" cy="515.3" r="2.5"/><circle cx="944.4" cy="516.9" r="2.5"/><circle cx="947.2" cy="515.0" r="2.5"/><circle cx="950.6" cy="514.3" r="2.5"/><circle cx="953.7" cy="516.3" r="2.5"/><circle cx="956.6" cy="510.7" r="2.5"/><circle cx="960.0" cy="515.5" r="2.5"/><circle cx="962.7" cy="517.8" r="2.5"/><circle cx="966.6" cy="515.8" r="2.5"/><circle cx="969.5" cy="514.1" r="2.5"/><circle cx="973.5" cy="518.4" r="2.5"/><circle cx="976.4" cy="512.9" r="2.5"/><circle cx="979.3" cy="515.8" r="2.5"/><circle cx="982.4" cy="506.4" r="2.5"/><circle cx="985.7" cy="508.6" r="2.5"/><circle cx="988.7" cy="503.1" r="2.5"/><circle cx="992.3" cy="498.9" r="2.5"/><circle cx="995.3" cy="497.6" r="2.5"/><circle cx="998.8" cy="485.5" r="2.5"/><circle cx="1002.3" cy="487.1" r="2.5"/><circle cx="1005.1" cy="478.9" r="2.5"/><circle cx="1008.1" cy="463.8" r="2.5"/><circle cx="1011.3" cy="468.4" r="2.5"/><circle cx="1014.8" cy="454.9" r="2.5"/><circle cx="1017.1" cy="444.8" r="2.5"/><circle cx="1020.9" cy="446.3" r="2.5"/><circle cx="1023.7" cy="433.7" r="2.5"/><circle cx="1027.5" cy="429.9" r="2.5"/><circle cx="1030.5" cy="412.9" r="2.5"/><circle cx="1033.9" cy="417.9" r="2.5"/><circle cx="1037.1" cy="409.6" r="2.5"/><circle cx="1040.0" cy="412.9" r="2.5"/><circle cx="1043.3" cy="399.6" r="2.5"/><circle cx="1046.4" cy="395.7" r="2.5"/><circle cx="1049.3" cy="376.2" r="2.5"/><circle cx="1053.1" cy="366.4" r="2.5"/><circle cx="1056.4" cy="356.7" r="2.5"/><circle cx="1059.8" cy="341.8" r="2.5"/><circle cx="1062.5" cy="332.7" r="2.5"/><circle cx="1065.2" cy="327.8" r="2.5"/><circle cx="1068.7" cy="319.2" r="2.5"/><circle cx="1072.6" cy="314.1" r="2.5"/><circle cx="1075.4" cy="305.8" r="2.5"/><circle cx="1077.9" cy="306.3" r="2.5"/><circle cx="1081.7" cy="309.1" r="2.5"/><circle cx="1084.9" cy="307.8" r="2.5"/><circle cx="1088.1" cy="309.0" r="2.5"/><circle cx="1091.3" cy="308.7" r="2.5"/><circle cx="1094.0" cy="308.4" r="2.5"/><circle cx="1097.7" cy="314.5" r="2.5"/><circle cx="1101.1" cy="309.1" r="2.5"/><circle cx="1104.7" cy="314.4" r="2.5"/><circle cx="1107.7" cy="312.3" r="2.5"/><circle cx="1109.6" cy="314.1" r="2.5"/><circle cx="1113.5" cy="318.7" r="2.5"/><circle cx="1116.5" cy="317.8" r="2.5"/><circle cx="1119.8" cy="323.5" r="2.5"/><circle cx="1123.1" cy="330.2" r="2.5"/><circle cx="1126.8" cy="332.4" r="2.5"/><circle cx="1129.7" cy="335.7" r="2.5"/><circle cx="1133.3" cy="338.3" r="2.5"/><circle cx="1136.6" cy="350.9" r="2.5"/><circle cx="1139.8" cy="372.7" r="2.5"/><circle cx="1143.1" cy="367.4" r="2.5"/><circle cx="1146.2" cy="378.9" r="2.5"/><circle cx="1148.9" cy="386.7" r="2.5"/><circle cx="1151.8" cy="394.8" r="2.5"/><circle cx="1155.2" cy="403.2" r="2.5"/><circle cx="1158.7" cy="395.6" r="2.5"/><circle cx="1161.5" cy="405.2" r="2.5"/><circle cx="1164.8" cy="410.2" r="2.5"/><circle cx="1168.3" cy="415.2" r="2.5"/><circle cx="1171.1" cy="420.0" r="2.5"/><circle cx="1174.9" cy="421.2" r="2.5"/><circle cx="1178.2" cy="424.7" r="2.5"/><circle cx="1180.8" cy="424.6" r="2.5"/><circle cx="1184.2" cy="428.9" r="2.5"/><circle cx="1187.4" cy="431.2" r="2.5"/><circle cx="1190.9" cy="427.0" r="2.5"/><circle cx="1193.4" cy="429.6" r="2.5"/><circle cx="1197.1" cy="432.4" r="2.5"/><circle cx="1200.4" cy="432.1" r="2.5"/><circle cx="1203.1" cy="432.5" r="2.5"/><circle cx="1206.4" cy="434.5" r="2.5"/><circle cx="1210.1" cy="434.0" r="2.5"/><circle cx="1212.9" cy="447.1" r="2.5"/><circle cx="1216.0" cy="442.2" r="2.5"/><circle cx="1219.1" cy="444.9" r="2.5"/><circle cx="1222.9" cy="454.2" r="2.5"/><circle cx="1225.6" cy="459.3" r="2.5"/><circle cx="1228.1" cy="469.9" r="2.5"/><circle cx="1232.0" cy="472.3" r="2.5"/><circle cx="1235.8" cy="476.9" r="2.5"/><circle cx="1238.6" cy="482.6" r="2.5"/><circle cx="1242.2" cy="482.0" r="2.5"/><circle cx="1244.8" cy="483.7" r="2.5"/><circle cx="1248.2" cy="496.7" r="2.5"/><circle cx="1251.3" cy="504.3" r="2.5"/><circle cx="1254.9" cy="507.5" r="2.5"/><circle cx="1257.9" cy="510.1" r="2.5"/><circle cx="1260.8" cy="508.7" r="2.5"/><circle cx="1264.2" cy="508.4" r="2.5"/><circle cx="1267.9" cy="514.1" r="2.5"/><circle cx="1270.4" cy="513.5" r="2.5"/><circle cx="1273.8" cy="513.0" r="2.5"/><circle cx="1277.2" cy="512.2" r="2.5"/><circle cx="1280.3" cy="514.8" r="2.5"/><circle cx="1283.2" cy="513.3" r="2.5"/><circle cx="1286.9" cy="515.0" r="2.5"/><circle cx="1290.5" cy="520.2" r="2.5"/><circle cx="1292.8" cy="516.0" r="2.5"/><circle cx="1295.6" cy="513.8" r="2.5"/><circle cx="1299.1" cy="513.6" r="2.5"/><circle cx="1302.0" cy="516.0" r="2.5"/><circle cx="1305.8" cy="513.6" r="2.5"/><circle cx="1309.0" cy="517.6" r="2.5"/><circle cx="1312.7" cy="512.4" r="2.5"/></g><path d="M1010,751.8 1012,751.5 1014,751 1016,750.4 1018,749.6 1020,748.6 1022,747.4 1024,745.9 1026,744.1 1028,741.8 1030,739.2 1032,736 1034,732.2 1036,727.9 1038,722.9 1040,717.2 1042,710.8 1044,703.6 1046,695.7 1048,687.2 1050,678 1052,668.3 1054,658.2 1056,647.7 1058,637.1 1060,626.5 1062,616.2 1064,606.2 1066,596.9 1068,588.5 1070,581.1 1072,574.9 1074,570 1076,566.7 1078,564.9 1080,564.7 1082,566.2 1084,569.2 1086,573.8 1088,579.7 1090,586.9 1092,595.2 1094,604.3 1096,614.1 1098,624.4 1100,635 1102,645.6 1104,656.1 1106,666.3 1108,676.1 1110,685.4 1112,694.1 1114,702.1 1116,709.4 1118,715.9 1120,721.8 1122,726.9 1124,731.4 1126,735.3 1128,738.6 1130,741.4 1132,743.7 1134,745.6 1136,747.2 1138,748.4 1140,749.4 1142,750.3 1144,750.9 1146,751.4 1148,751.8 L1148.0,751.9 L1010.0,751.9 Z" fill="url(#c3_g0)"/><path d="M942,752.9 998,752.7 1000,752.7 1002,752.6 1004,752.5 1006,752.3 1008,752.1 1010,751.8 1012,751.5 1014,751 1016,750.4 1018,749.6 1020,748.6 1022,747.4 1024,745.9 1026,744.1 1028,741.8 1030,739.2 1032,736 1034,732.2 1036,727.9 1038,722.9 1040,717.2 1042,710.8 1044,703.6 1046,695.7 1048,687.2 1050,678 1052,668.3 1054,658.2 1056,647.7 1058,637.1 1060,626.5 1062,616.2 1064,606.2 1066,596.9 1068,588.5 1070,581.1 1072,574.9 1074,570 1076,566.7 1078,564.9 1080,564.7 1082,566.2 1084,569.2 1086,573.8 1088,579.7 1090,586.9 1092,595.2 1094,604.3 1096,614.1 1098,624.4 1100,635 1102,645.6 1104,656.1 1106,666.3 1108,676.1 1110,685.4 1112,694.1 1114,702.1 1116,709.4 1118,715.9 1120,721.8 1122,726.9 1124,731.4 1126,735.3 1128,738.6 1130,741.4 1132,743.7 1134,745.6 1136,747.2 1138,748.4 1140,749.4 1142,750.3 1144,750.9 1146,751.4 1148,751.8 1150,752.1 1152,752.3 1154,752.5 1156,752.6 1158,752.7 1160,752.7 1312,752.9" fill="none" stroke="#2a0e10" stroke-width="1.8" stroke-dasharray="14.5 9"/><path d="M1056,751.8 1058,751.5 1060,751.2 1062,750.9 1064,750.4 1066,749.9 1068,749.3 1070,748.6 1072,747.8 1074,746.8 1076,745.7 1078,744.5 1080,743 1082,741.4 1084,739.6 1086,737.6 1088,735.3 1090,732.8 1092,730.1 1094,727.1 1096,723.8 1098,720.3 1100,716.5 1102,712.4 1104,708.1 1106,703.6 1108,698.9 1110,693.9 1112,688.9 1114,683.7 1116,678.4 1118,673.1 1120,667.8 1122,662.6 1124,657.5 1126,652.6 1128,647.9 1130,643.5 1132,639.4 1134,635.8 1136,632.5 1138,629.7 1140,627.5 1142,625.8 1144,624.6 1146,624.1 1148,624.1 1150,624.7 1152,625.9 1154,627.7 1156,630 1158,632.8 1160,636.1 1162,639.8 1164,643.9 1166,648.4 1168,653.1 1170,658 1172,663.1 1174,668.4 1176,673.7 1178,679 1180,684.2 1182,689.4 1184,694.4 1186,699.3 1188,704.1 1190,708.6 1192,712.8 1194,716.9 1196,720.6 1198,724.1 1200,727.4 1202,730.4 1204,733.1 1206,735.6 1208,737.8 1210,739.8 1212,741.6 1214,743.2 1216,744.6 1218,745.8 1220,746.9 1222,747.9 1224,748.7 1226,749.4 1228,750 1230,750.5 1232,750.9 1234,751.3 1236,751.6 1238,751.8 L1238.0,751.9 L1056.0,751.9 Z" fill="url(#c3_g1)"/><path d="M942,752.9 1040,752.7 1042,752.7 1044,752.6 1046,752.5 1048,752.4 1050,752.3 1052,752.2 1054,752 1056,751.8 1058,751.5 1060,751.2 1062,750.9 1064,750.4 1066,749.9 1068,749.3 1070,748.6 1072,747.8 1074,746.8 1076,745.7 1078,744.5 1080,743 1082,741.4 1084,739.6 1086,737.6 1088,735.3 1090,732.8 1092,730.1 1094,727.1 1096,723.8 1098,720.3 1100,716.5 1102,712.4 1104,708.1 1106,703.6 1108,698.9 1110,693.9 1112,688.9 1114,683.7 1116,678.4 1118,673.1 1120,667.8 1122,662.6 1124,657.5 1126,652.6 1128,647.9 1130,643.5 1132,639.4 1134,635.8 1136,632.5 1138,629.7 1140,627.5 1142,625.8 1144,624.6 1146,624.1 1148,624.1 1150,624.7 1152,625.9 1154,627.7 1156,630 1158,632.8 1160,636.1 1162,639.8 1164,643.9 1166,648.4 1168,653.1 1170,658 1172,663.1 1174,668.4 1176,673.7 1178,679 1180,684.2 1182,689.4 1184,694.4 1186,699.3 1188,704.1 1190,708.6 1192,712.8 1194,716.9 1196,720.6 1198,724.1 1200,727.4 1202,730.4 1204,733.1 1206,735.6 1208,737.8 1210,739.8 1212,741.6 1214,743.2 1216,744.6 1218,745.8 1220,746.9 1222,747.9 1224,748.7 1226,749.4 1228,750 1230,750.5 1232,750.9 1234,751.3 1236,751.6 1238,751.8 1240,752 1242,752.2 1244,752.3 1246,752.4 1248,752.5 1250,752.6 1252,752.7 1254,752.7 1312,752.9" fill="none" stroke="#2a0e10" stroke-width="1.8" stroke-dasharray="14.5 9"/><path d="M950,751.7 952,751.4 954,751.1 956,750.7 958,750.2 960,749.6 962,748.9 964,748.1 966,747.2 968,746.1 970,744.9 972,743.5 974,742 976,740.3 978,738.3 980,736.2 982,733.9 984,731.4 986,728.6 988,725.8 990,722.7 992,719.5 994,716.2 996,712.8 998,709.3 1000,705.9 1002,702.4 1004,699 1006,695.7 1008,692.6 1010,689.7 1012,687 1014,684.6 1016,682.5 1018,680.9 1020,679.6 1022,678.7 1024,678.3 1026,678.3 1028,678.7 1030,679.6 1032,680.9 1034,682.5 1036,684.6 1038,687 1040,689.7 1042,692.6 1044,695.7 1046,699 1048,702.4 1050,705.9 1052,709.3 1054,712.8 1056,716.2 1058,719.5 1060,722.7 1062,725.8 1064,728.6 1066,731.4 1068,733.9 1070,736.2 1072,738.3 1074,740.3 1076,742 1078,743.5 1080,744.9 1082,746.1 1084,747.2 1086,748.1 1088,748.9 1090,749.6 1092,750.2 1094,750.7 1096,751.1 1098,751.4 1100,751.7 L1100.0,751.9 L950.0,751.9 Z" fill="url(#c3_g2)"/><path d="M942,752.4 944,752.3 946,752.2 948,752 950,751.7 952,751.4 954,751.1 956,750.7 958,750.2 960,749.6 962,748.9 964,748.1 966,747.2 968,746.1 970,744.9 972,743.5 974,742 976,740.3 978,738.3 980,736.2 982,733.9 984,731.4 986,728.6 988,725.8 990,722.7 992,719.5 994,716.2 996,712.8 998,709.3 1000,705.9 1002,702.4 1004,699 1006,695.7 1008,692.6 1010,689.7 1012,687 1014,684.6 1016,682.5 1018,680.9 1020,679.6 1022,678.7 1024,678.3 1026,678.3 1028,678.7 1030,679.6 1032,680.9 1034,682.5 1036,684.6 1038,687 1040,689.7 1042,692.6 1044,695.7 1046,699 1048,702.4 1050,705.9 1052,709.3 1054,712.8 1056,716.2 1058,719.5 1060,722.7 1062,725.8 1064,728.6 1066,731.4 1068,733.9 1070,736.2 1072,738.3 1074,740.3 1076,742 1078,743.5 1080,744.9 1082,746.1 1084,747.2 1086,748.1 1088,748.9 1090,749.6 1092,750.2 1094,750.7 1096,751.1 1098,751.4 1100,751.7 1102,752 1104,752.2 1106,752.3 1108,752.4 1110,752.5 1112,752.6 1114,752.7 1116,752.7 1312,752.9" fill="none" stroke="#2a0e10" stroke-width="1.8" stroke-dasharray="14.5 9"/><path d="M1156,751.6 1158,751.2 1160,750.6 1162,749.9 1164,748.9 1166,747.8 1168,746.4 1170,744.7 1172,742.8 1174,740.5 1176,737.9 1178,735 1180,731.9 1182,728.4 1184,724.8 1186,721 1188,717.2 1190,713.4 1192,709.7 1194,706.3 1196,703.3 1198,700.7 1200,698.7 1202,697.3 1204,696.6 1206,696.6 1208,697.3 1210,698.7 1212,700.7 1214,703.3 1216,706.3 1218,709.7 1220,713.4 1222,717.2 1224,721 1226,724.8 1228,728.4 1230,731.9 1232,735 1234,737.9 1236,740.5 1238,742.8 1240,744.7 1242,746.4 1244,747.8 1246,748.9 1248,749.9 1250,750.6 1252,751.2 1254,751.6 L1254.0,751.9 L1156.0,751.9 Z" fill="url(#c3_g3)"/><path d="M942,752.9 1144,752.7 1146,752.7 1148,752.6 1150,752.4 1152,752.2 1154,752 1156,751.6 1158,751.2 1160,750.6 1162,749.9 1164,748.9 1166,747.8 1168,746.4 1170,744.7 1172,742.8 1174,740.5 1176,737.9 1178,735 1180,731.9 1182,728.4 1184,724.8 1186,721 1188,717.2 1190,713.4 1192,709.7 1194,706.3 1196,703.3 1198,700.7 1200,698.7 1202,697.3 1204,696.6 1206,696.6 1208,697.3 1210,698.7 1212,700.7 1214,703.3 1216,706.3 1218,709.7 1220,713.4 1222,717.2 1224,721 1226,724.8 1228,728.4 1230,731.9 1232,735 1234,737.9 1236,740.5 1238,742.8 1240,744.7 1242,746.4 1244,747.8 1246,748.9 1248,749.9 1250,750.6 1252,751.2 1254,751.6 1256,752 1258,752.2 1260,752.4 1262,752.6 1264,752.7 1266,752.7 1312,752.9" fill="none" stroke="#2a0e10" stroke-width="1.8" stroke-dasharray="14.5 9"/><path d="M940,752 941.5,751.9 943,751.7 944.5,751.4 946,751.1 947.5,750.7 949,750.2 950.5,749.7 952,749.2 953.5,748.6 955,748 956.5,747.3 958,746.6 959.5,745.9 961,745.2 962.5,744.4 964,743.7 965.5,742.8 967,741.9 968.5,740.8 970,739.7 971.5,738.4 973,737.1 974.5,735.7 976,734.2 977.5,732.7 979,731.1 980.5,729.5 982,727.8 983.5,725.9 985,723.7 986.5,721.4 988,719 989.5,716.5 991,714.1 992.5,711.6 994,709.1 995.5,706.4 997,703.8 998.5,701.1 1000,698.4 1001.5,695.8 1003,693.3 1004.5,690.7 1006,688 1007.5,685.4 1009,682.9 1010.5,680.7 1012,678.7 1013.5,677 1015,675.5 1016.5,674.2 1018,672.9 1019.5,671.7 1021,670.5 1022.5,669.3 1024,667.9 1025.5,666.3 1027,664.5 1028.5,662.6 1030,660.6 1031.5,658.6 1033,656.4 1034.5,654.1 1036,651.9 1037.5,649.5 1039,647.2 1040.5,644.9 1042,642.6 1043.5,640.1 1045,637.5 1046.5,634.6 1048,631.4 1049.5,627.6 1051,622.9 1052.5,617.7 1054,612.2 1055.5,607 1057,602.2 1058.5,597.8 1060,593.4 1061.5,589 1063,584.4 1064.5,579.4 1066,573.4 1067.5,566.9 1069,560.7 1070.5,555.7 1072,552.4 1073.5,549.8 1075,547.5 1076.5,545.6 1078,544.4 1079.5,544 1081,544.6 1082.5,546 1084,548.1 1085.5,550.4 1087,552.9 1088.5,555.8 1090,559.3 1091.5,563.4 1093,567.9 1094.5,572.5 1096,577.3 1097.5,582.9 1099,588.9 1100.5,594.8 1102,600.2 1103.5,605 1105,610 1106.5,614.9 1108,619 1109.5,621.9 1111,623.1 1112.5,623.9 1114,624.6 1115.5,625.1 1117,625.5 1118.5,625.8 1120,626 1121.5,625.8 1123,624.6 1124.5,622.7 1126,620.3 1127.5,617.8 1129,615.5 1130.5,613.9 1132,612.9 1133.5,612 1135,611.1 1136.5,610.3 1138,609.6 1139.5,609 1141,608.5 1142.5,608.2 1144,608.1 1145.5,608.2 1147,608.5 1148.5,609 1150,609.7 1151.5,610.5 1153,611.3 1154.5,612.2 1156,613.4 1157.5,615 1159,617 1160.5,619.4 1162,621.8 1163.5,624.3 1165,627 1166.5,630 1168,633.3 1169.5,636.5 1171,639.6 1172.5,642.2 1174,644.7 1175.5,647 1177,649.3 1178.5,651.4 1180,653.4 1181.5,655.2 1183,656.9 1184.5,658.4 1186,659.8 1187.5,661 1189,662.2 1190.5,663.3 1192,664.4 1193.5,665.5 1195,666.5 1196.5,667.4 1198,668.1 1199.5,669 1201,669.9 1202.5,671 1204,672.6 1205.5,674.6 1207,677 1208.5,679.6 1210,682.5 1211.5,685.7 1213,689.4 1214.5,693.1 1216,696.6 1217.5,700.1 1219,703.5 1220.5,707 1222,710.3 1223.5,713.6 1225,716.8 1226.5,719.7 1228,722.5 1229.5,725.3 1231,727.9 1232.5,730.5 1234,732.9 1235.5,735.1 1237,737.1 1238.5,738.9 1240,740.6 1241.5,742.3 1243,744 1244.5,745.5 1246,746.8 1247.5,748 1249,749 1250.5,749.6 1252,750.1 1253.5,750.6 1255,751 1256.5,751.4 1258,751.8 1259.5,752.1 1261,752.4 1262.5,752.6 1264,752.8 1265.5,752.9 1267,753 1268.5,753 1270,753 1271.5,753 1273,753 1274.5,753 1276,753 1277.5,753 1279,753 1280.5,753 1282,753 1283.5,753 1285,753 1286.5,753 1288,753 1289.5,753 1291,753 1292.5,753 1294,753 1295.5,753 1297,753 1298.5,753 1300,753 1301.5,753 1303,753 1304.5,753 1306,753 1307.5,753 1309,753 1310.5,753 1312,753 1312.6,753" fill="none" stroke="#000" stroke-width="2.2" stroke-linejoin="round"/><g fill="#fff" stroke="#000" stroke-width="1.5"><circle cx="981.5" cy="723.6" r="2.5"/><circle cx="983.9" cy="723.5" r="2.5"/><circle cx="987.9" cy="722.0" r="2.5"/><circle cx="990.8" cy="720.1" r="2.5"/><circle cx="993.9" cy="707.8" r="2.5"/><circle cx="997.4" cy="703.0" r="2.5"/><circle cx="999.8" cy="692.0" r="2.5"/><circle cx="1003.4" cy="699.2" r="2.5"/><circle cx="1006.8" cy="687.1" r="2.5"/><circle cx="1010.2" cy="676.7" r="2.5"/><circle cx="1013.1" cy="675.9" r="2.5"/><circle cx="1016.6" cy="672.0" r="2.5"/><circle cx="1019.6" cy="672.4" r="2.5"/><circle cx="1022.6" cy="671.2" r="2.5"/><circle cx="1025.8" cy="670.4" r="2.5"/><circle cx="1028.9" cy="654.9" r="2.5"/><circle cx="1032.6" cy="662.0" r="2.5"/><circle cx="1035.6" cy="657.5" r="2.5"/><circle cx="1038.8" cy="645.0" r="2.5"/><circle cx="1041.2" cy="639.3" r="2.5"/><circle cx="1044.9" cy="639.4" r="2.5"/><circle cx="1047.8" cy="627.2" r="2.5"/><circle cx="1051.9" cy="618.4" r="2.5"/><circle cx="1054.4" cy="605.9" r="2.5"/><circle cx="1058.3" cy="603.3" r="2.5"/><circle cx="1061.3" cy="597.7" r="2.5"/><circle cx="1064.5" cy="586.3" r="2.5"/><circle cx="1067.5" cy="571.1" r="2.5"/><circle cx="1070.8" cy="558.1" r="2.5"/><circle cx="1073.4" cy="548.6" r="2.5"/><circle cx="1076.9" cy="543.3" r="2.5"/><circle cx="1080.2" cy="549.1" r="2.5"/><circle cx="1083.7" cy="547.5" r="2.5"/><circle cx="1086.7" cy="557.2" r="2.5"/><circle cx="1089.4" cy="560.4" r="2.5"/><circle cx="1093.5" cy="575.7" r="2.5"/><circle cx="1096.5" cy="580.5" r="2.5"/><circle cx="1098.8" cy="587.2" r="2.5"/><circle cx="1102.6" cy="603.7" r="2.5"/><circle cx="1105.9" cy="602.5" r="2.5"/><circle cx="1108.8" cy="621.8" r="2.5"/><circle cx="1112.0" cy="623.1" r="2.5"/><circle cx="1115.5" cy="625.8" r="2.5"/><circle cx="1118.6" cy="627.5" r="2.5"/><circle cx="1122.1" cy="624.7" r="2.5"/><circle cx="1124.7" cy="619.4" r="2.5"/><circle cx="1128.0" cy="616.5" r="2.5"/><circle cx="1130.9" cy="611.1" r="2.5"/><circle cx="1134.5" cy="614.9" r="2.5"/><circle cx="1138.0" cy="609.2" r="2.5"/><circle cx="1141.3" cy="608.9" r="2.5"/><circle cx="1144.3" cy="610.6" r="2.5"/><circle cx="1147.5" cy="609.0" r="2.5"/><circle cx="1150.8" cy="608.5" r="2.5"/><circle cx="1153.8" cy="606.0" r="2.5"/><circle cx="1156.9" cy="619.3" r="2.5"/><circle cx="1160.1" cy="618.9" r="2.5"/><circle cx="1163.3" cy="620.5" r="2.5"/><circle cx="1166.7" cy="630.2" r="2.5"/><circle cx="1170.1" cy="633.8" r="2.5"/><circle cx="1173.0" cy="641.9" r="2.5"/><circle cx="1176.0" cy="651.7" r="2.5"/><circle cx="1179.2" cy="650.3" r="2.5"/><circle cx="1183.4" cy="656.2" r="2.5"/><circle cx="1185.7" cy="660.9" r="2.5"/><circle cx="1188.7" cy="663.2" r="2.5"/><circle cx="1191.8" cy="663.2" r="2.5"/><circle cx="1195.2" cy="670.4" r="2.5"/><circle cx="1198.8" cy="673.4" r="2.5"/><circle cx="1202.3" cy="668.5" r="2.5"/><circle cx="1205.2" cy="672.5" r="2.5"/><circle cx="1208.0" cy="683.4" r="2.5"/><circle cx="1211.8" cy="686.1" r="2.5"/><circle cx="1214.7" cy="694.5" r="2.5"/><circle cx="1217.9" cy="702.1" r="2.5"/><circle cx="1220.7" cy="710.5" r="2.5"/><circle cx="1224.0" cy="710.7" r="2.5"/><circle cx="1227.4" cy="722.4" r="2.5"/><circle cx="1230.9" cy="728.6" r="2.5"/><circle cx="1233.9" cy="730.3" r="2.5"/><circle cx="1237.1" cy="737.7" r="2.5"/><circle cx="1240.3" cy="738.5" r="2.5"/><circle cx="1243.9" cy="746.6" r="2.5"/><circle cx="1246.8" cy="747.6" r="2.5"/><circle cx="1249.7" cy="751.7" r="2.5"/><circle cx="1252.6" cy="749.3" r="2.5"/><circle cx="1256.1" cy="752.7" r="2.5"/><circle cx="1259.3" cy="755.5" r="2.5"/><circle cx="1262.1" cy="756.3" r="2.5"/><circle cx="1265.9" cy="755.1" r="2.5"/><circle cx="1268.8" cy="755.4" r="2.5"/><circle cx="1272.1" cy="753.6" r="2.5"/><circle cx="1275.0" cy="754.2" r="2.5"/><circle cx="1278.6" cy="748.6" r="2.5"/><circle cx="1281.8" cy="752.2" r="2.5"/><circle cx="1285.2" cy="751.4" r="2.5"/><circle cx="1288.3" cy="756.0" r="2.5"/><circle cx="1291.1" cy="757.3" r="2.5"/><circle cx="1294.7" cy="752.5" r="2.5"/><circle cx="1297.4" cy="748.9" r="2.5"/><circle cx="1301.3" cy="751.9" r="2.5"/><circle cx="1304.0" cy="755.4" r="2.5"/><circle cx="1307.6" cy="753.3" r="2.5"/><circle cx="1310.2" cy="748.5" r="2.5"/><circle cx="943.9" cy="749.3" r="2.5"/><circle cx="947.7" cy="748.0" r="2.5"/><circle cx="963.2" cy="742.5" r="2.5"/></g><text x="209.0" y="250.0" font-size="31.5" text-anchor="start" font-family="Liberation Serif, serif" stroke="#000" stroke-width="0.2" >(<tspan font-style="italic">a</tspan>)</text><text x="640.6" y="249.0" font-size="31.5" text-anchor="start" font-family="Liberation Serif, serif" stroke="#000" stroke-width="0.2" >(<tspan font-style="italic">b</tspan>)</text><text x="1093.6" y="24.5" font-size="31.5" text-anchor="start" font-family="Liberation Serif, serif" stroke="#000" stroke-width="0.2" >(<tspan font-style="italic">c</tspan>)</text><text x="145.0" y="307.3" font-size="30.8" text-anchor="start" font-family="Liberation Serif, serif" stroke="#000" stroke-width="0.2" >CuL<tspan font-size="23" dy="6.5">3</tspan><tspan dy="-6.5">M</tspan><tspan font-size="23" dy="6.5">45</tspan><tspan dy="-6.5">M</tspan><tspan font-size="23" dy="6.5">45</tspan></text><text x="582.0" y="307.3" font-size="30.8" text-anchor="start" font-family="Liberation Serif, serif" stroke="#000" stroke-width="0.2" >CuL<tspan font-size="23" dy="6.5">3</tspan><tspan dy="-6.5">M</tspan><tspan font-size="23" dy="6.5">45</tspan><tspan dy="-6.5">M</tspan><tspan font-size="23" dy="6.5">45</tspan></text><text x="1030.5" y="80.5" font-size="30.8" text-anchor="start" font-family="Liberation Serif, serif" stroke="#000" stroke-width="0.2" >CuL<tspan font-size="23" dy="6.5">3</tspan><tspan dy="-6.5">M</tspan><tspan font-size="23" dy="6.5">45</tspan><tspan dy="-6.5">M</tspan><tspan font-size="23" dy="6.5">45</tspan></text><text x="424.2" y="438.0" font-size="30.2" text-anchor="end" font-family="Liberation Serif, serif" stroke="#000" stroke-width="0.2" >50 °C</text><text x="425.8" y="684.0" font-size="30.2" text-anchor="end" font-family="Liberation Serif, serif" stroke="#000" stroke-width="0.2" >150 °C</text><text x="858.8" y="437.5" font-size="30.2" text-anchor="end" font-family="Liberation Serif, serif" stroke="#000" stroke-width="0.2" >50 °C</text><text x="857.4" y="684.0" font-size="30.2" text-anchor="end" font-family="Liberation Serif, serif" stroke="#000" stroke-width="0.2" >400 °C</text><text x="1307.5" y="206.0" font-size="30.2" text-anchor="end" font-family="Liberation Serif, serif" stroke="#000" stroke-width="0.2" >50 °C</text><text x="1311.5" y="427.0" font-size="30.2" text-anchor="end" font-family="Liberation Serif, serif" stroke="#000" stroke-width="0.2" >160 °C</text><text x="1311.5" y="684.2" font-size="30.2" text-anchor="end" font-family="Liberation Serif, serif" stroke="#000" stroke-width="0.2" >360 °C</text><text x="201.5" y="826.0" font-size="31.5" text-anchor="start" font-family="Liberation Serif, serif" stroke="#000" stroke-width="0.2" >570</text><text x="385.5" y="826.0" font-size="31.5" text-anchor="start" font-family="Liberation Serif, serif" stroke="#000" stroke-width="0.2" >580</text><text x="187.8" y="862.5" font-size="30.8" text-anchor="start" font-family="Liberation Serif, serif" stroke="#000" stroke-width="0.2" ><tspan font-style="italic">E</tspan><tspan font-size="23" dy="6">B</tspan><tspan dy="-6">, eV</tspan></text><text x="635.8" y="826.0" font-size="31.5" text-anchor="start" font-family="Liberation Serif, serif" stroke="#000" stroke-width="0.2" >570</text><text x="820.7" y="826.0" font-size="31.5" text-anchor="start" font-family="Liberation Serif, serif" stroke="#000" stroke-width="0.2" >580</text><text x="622.2" y="862.5" font-size="30.8" text-anchor="start" font-family="Liberation Serif, serif" stroke="#000" stroke-width="0.2" ><tspan font-style="italic">E</tspan><tspan font-size="23" dy="6">B</tspan><tspan dy="-6">, eV</tspan></text><text x="1083.8" y="826.0" font-size="31.5" text-anchor="start" font-family="Liberation Serif, serif" stroke="#000" stroke-width="0.2" >570</text><text x="1268.7" y="826.0" font-size="31.5" text-anchor="start" font-family="Liberation Serif, serif" stroke="#000" stroke-width="0.2" >580</text><text x="1070.6" y="862.5" font-size="30.8" text-anchor="start" font-family="Liberation Serif, serif" stroke="#000" stroke-width="0.2" ><tspan font-style="italic">E</tspan><tspan font-size="23" dy="6">B</tspan><tspan dy="-6">, eV</tspan></text><text transform="translate(24.3,496) rotate(-90)" font-size="32.5" font-family="Liberation Serif, serif" stroke="#000" stroke-width="0.2">Intensity, arb. u.</text></svg></body></html>
